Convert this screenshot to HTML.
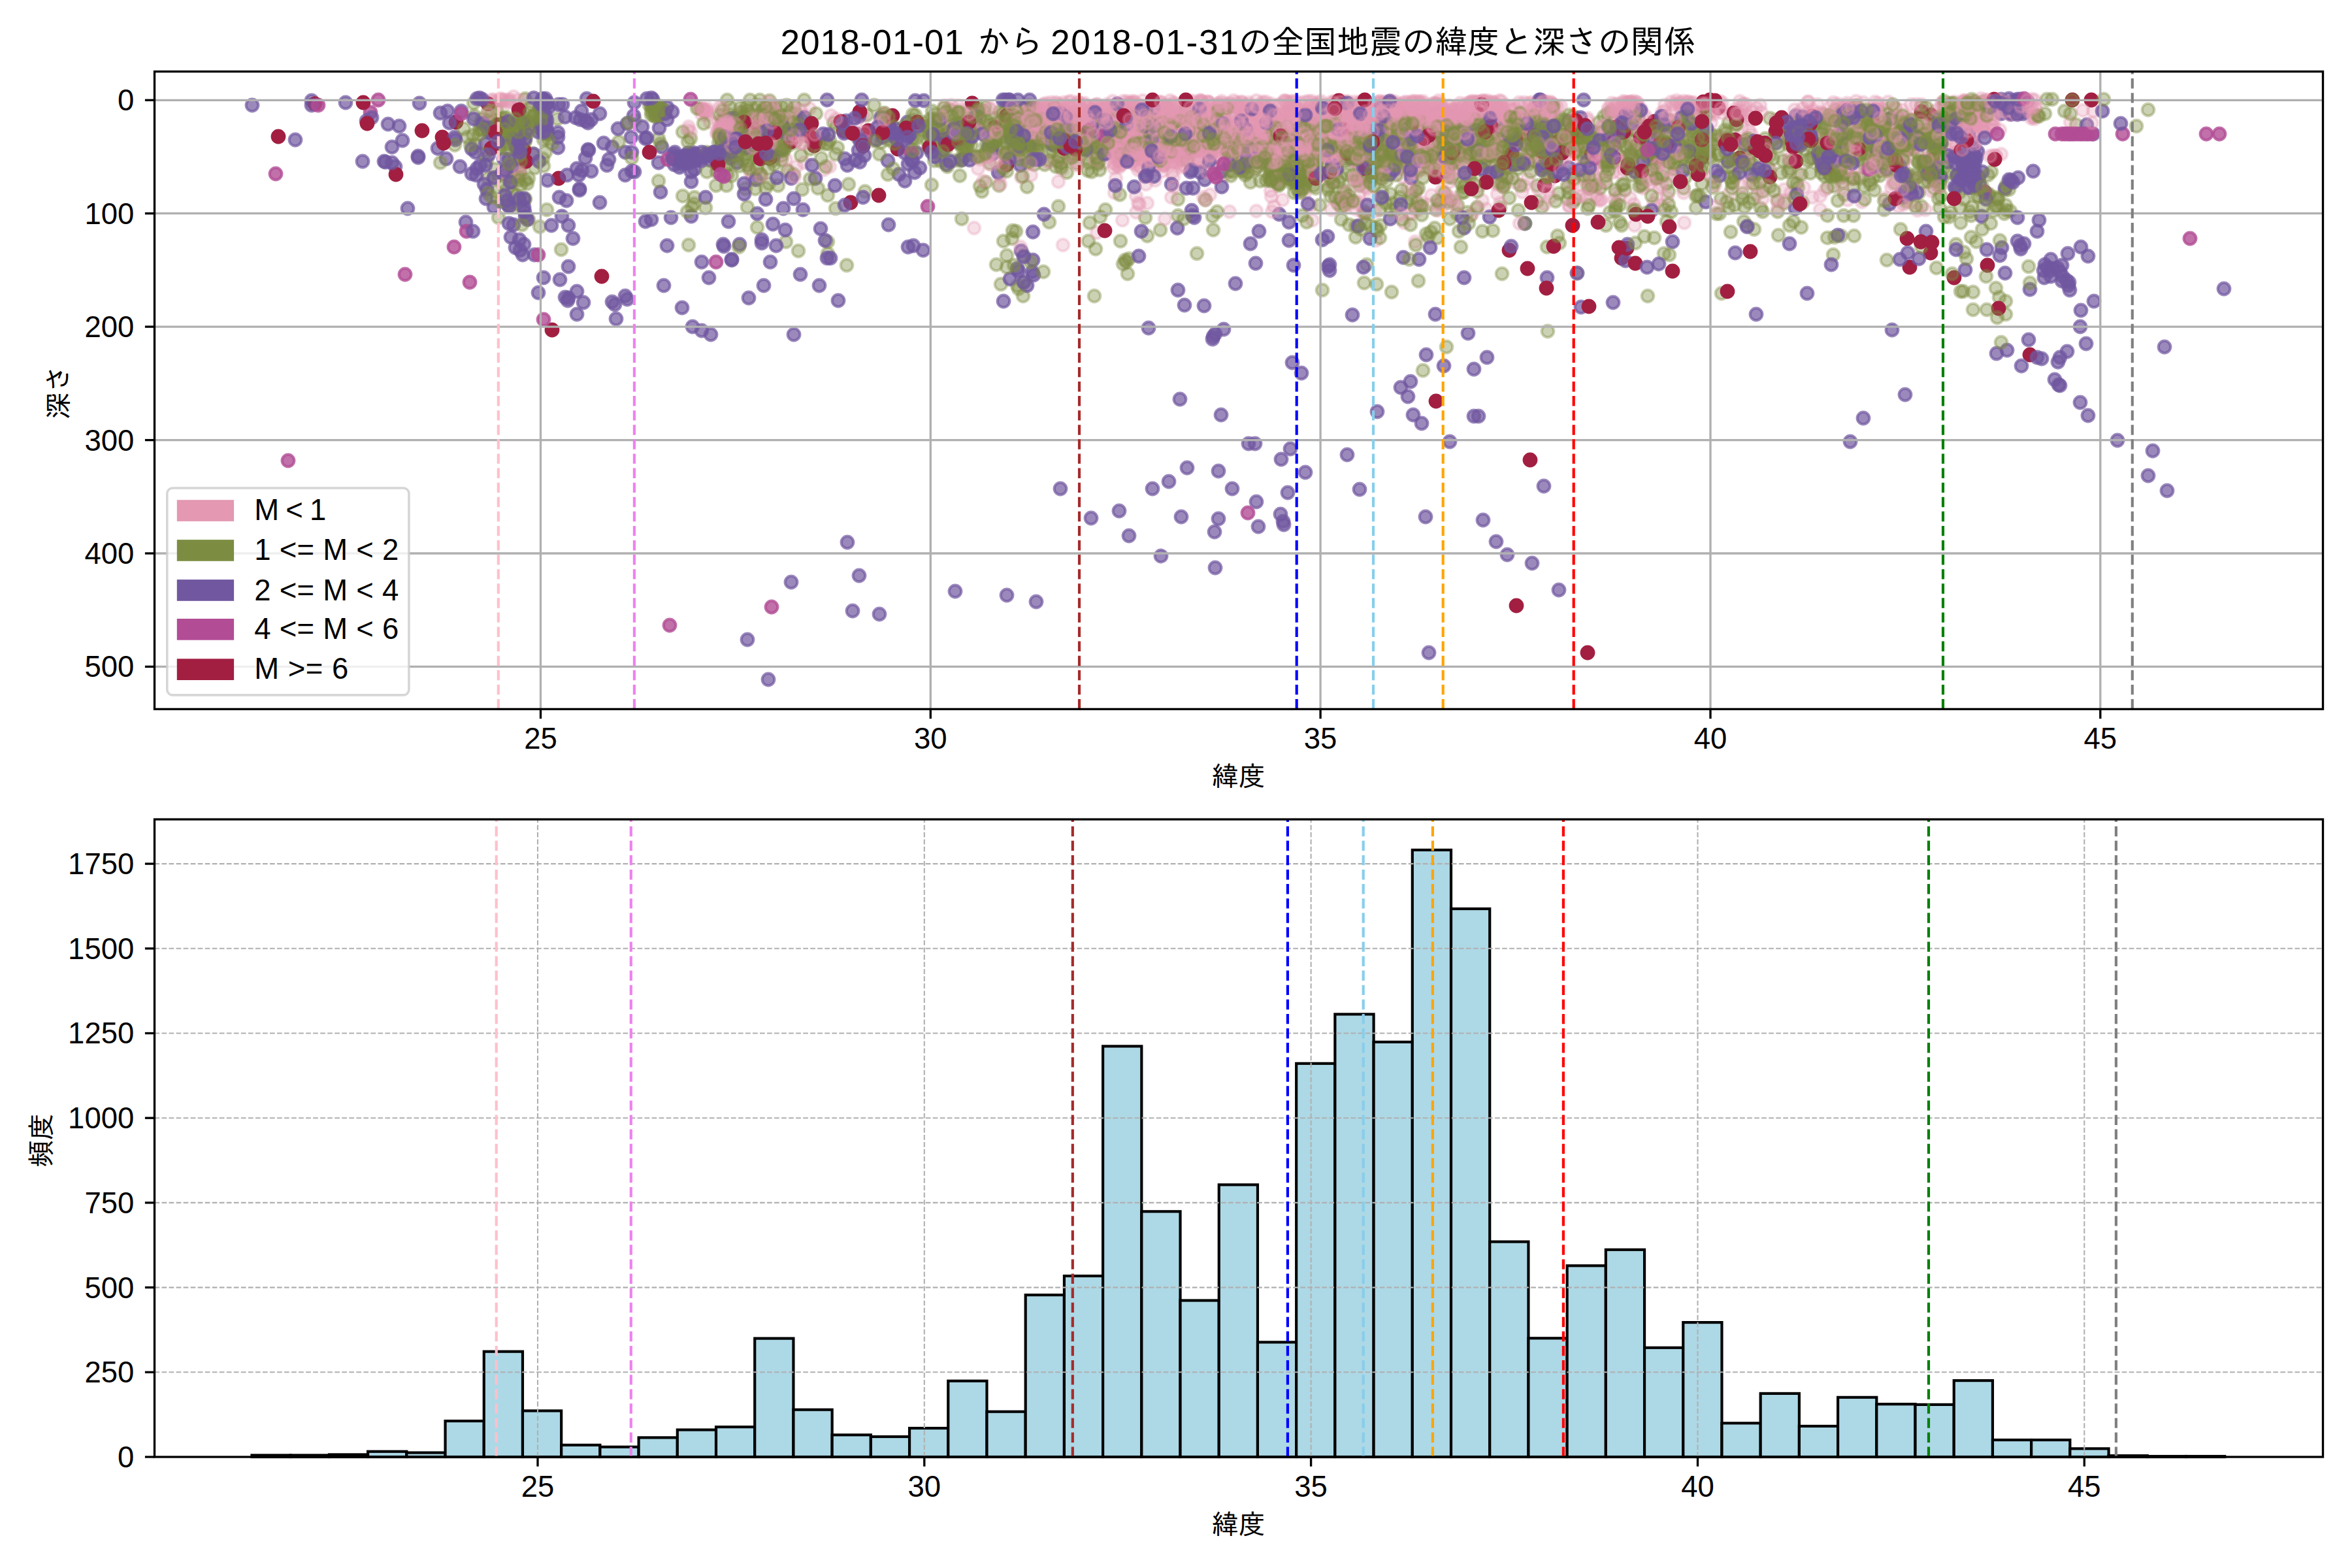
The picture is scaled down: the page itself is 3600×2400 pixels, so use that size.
<!DOCTYPE html>
<html lang="ja"><head><meta charset="utf-8"><title>2018-01 全国地震の緯度と深さ</title>
<style>html,body{margin:0;padding:0;background:#fff}svg{display:block}text{font-family:"Liberation Sans","IPAGothic","Noto Sans CJK JP",sans-serif;fill:#000}.j{font-family:"Liberation Sans","IPAGothic","Noto Sans CJK JP",sans-serif}.tk{font-size:45.5px}.sp{fill:none;stroke:#000;stroke-width:3.33;stroke-linecap:square}.g1{stroke:#b0b0b0;stroke-width:3.33;fill:none}.g2{stroke:#b0b0b0;stroke-width:2.08;fill:none;stroke-dasharray:7.7 3.33}.tc{stroke:#000;stroke-width:3.33}.vl{stroke-width:4.17;fill:none;stroke-dasharray:15.42 6.67}.bar{fill:#add8e6;stroke:#000;stroke-width:4.17;stroke-linejoin:miter}.sK{marker:url(#mK)}.sG{marker:url(#mG)}.sP{marker:url(#mP)}.sM{marker:url(#mM)}.sC{marker:url(#mC)}.tK{marker-start:url(#mK)}.tG{marker-start:url(#mG)}.tP{marker-start:url(#mP)}.tM{marker-start:url(#mM)}.tC{marker-start:url(#mC)}</style></head><body>
<svg width="3600" height="2400" viewBox="0 0 3600 2400">
<rect width="3600" height="2400" fill="#fff"/>
<g id="scatter"><defs>
<marker id="mK" markerUnits="userSpaceOnUse" markerWidth="28" markerHeight="28" refX="14" refY="14" viewBox="0 0 28 28"><circle cx="14" cy="14" r="9.32" fill="#e498b2" fill-opacity="0.3" stroke="#e498b2" stroke-opacity="0.3" stroke-width="4.17"/></marker>
<marker id="mG" markerUnits="userSpaceOnUse" markerWidth="28" markerHeight="28" refX="14" refY="14" viewBox="0 0 28 28"><circle cx="14" cy="14" r="9.32" fill="#7c8d42" fill-opacity="0.4" stroke="#7c8d42" stroke-opacity="0.4" stroke-width="4.17"/></marker>
<marker id="mP" markerUnits="userSpaceOnUse" markerWidth="28" markerHeight="28" refX="14" refY="14" viewBox="0 0 28 28"><circle cx="14" cy="14" r="9.32" fill="#7157a0" fill-opacity="0.7" stroke="#7157a0" stroke-opacity="0.7" stroke-width="4.17"/></marker>
<marker id="mM" markerUnits="userSpaceOnUse" markerWidth="28" markerHeight="28" refX="14" refY="14" viewBox="0 0 28 28"><circle cx="14" cy="14" r="9.32" fill="#b24c95" fill-opacity="0.8" stroke="#b24c95" stroke-opacity="0.8" stroke-width="4.17"/></marker>
<marker id="mC" markerUnits="userSpaceOnUse" markerWidth="28" markerHeight="28" refX="14" refY="14" viewBox="0 0 28 28"><circle cx="14" cy="14" r="9.32" fill="#a21f42" fill-opacity="1.0" stroke="#a21f42" stroke-opacity="1.0" stroke-width="4.17"/></marker>
</defs>
<clipPath id="cp1"><rect x="236.5" y="109.5" width="3319.0" height="975.9"/></clipPath>
<g clip-path="url(#cp1)" fill="none" stroke="none">
<polyline class="sK" points="2149,165 1942,184 1761,191 1984,183 3003,173 1352,174 2045,220 1659,198 1600,168 3035,201 2192,237 1807,170 2145,167 2084,201 1774,215 1953,218 2842,166 2299,163 2054,174 1673,187 1445,189 1858,202 1976,163 1683,190 2804,240 2150,166 1799,242 2850,309 1507,239 2296,185 3038,170 1803,232 3097,159 1612,190 2543,314 2101,182 2267,172 1697,166 3114,182 2079,220 1074,175"/>
<polyline class="sG" points="2053,317 1191,196 800,186 2857,218 2993,289 2361,195 1786,164 1144,247 1669,212 1525,227 1135,193 798,189 2843,212 1163,204 1746,216 2627,213 2357,210 2354,219 2088,323 2364,215 1414,200 1626,174 1763,208 2714,214 2956,175"/>
<polyline class="sP" points="2989,197 1061,238 2965,191 788,223"/>
<polyline class="tC" points="1291,200 1291,200"/>
<polyline class="sP" points="2996,286 1064,244 3078,175 1137,194"/>
<polyline class="sK" points="2581,163 2172,156 2467,158 1950,231 1179,216 1757,180 1775,185 1822,184 1765,220 2018,161 2029,184 1776,237 2078,312 2023,198 1780,254 1803,173 2451,305 2037,191 2775,169 3055,160 1108,186 1977,171 2870,183 2107,180 2738,242 1772,219 1868,183 1917,228 2561,160 2088,182 1885,164 1106,183 1152,170 769,153 2573,168 2035,230 1625,259 1981,167 2002,173 2221,178 2615,227"/>
<polyline class="sG" points="761,189 2819,219 1694,179 1456,169 1619,198 1165,206 2861,277 1656,213 766,186 1687,196 1836,193 2646,318 1506,170 2474,312 2969,228 1276,188 1493,187 1510,210 2114,305 2865,194 1639,189 2814,214 773,207 2406,267 2914,245"/>
<polyline class="sP" points="1403,234 838,157 1105,220 1102,240"/>
<polyline class="tC" points="1160,215 1160,215"/>
<polyline class="sG" points="2779,209 1599,193 2582,185 2935,234 2848,235 2436,217 2360,317 1214,212 2613,200 2707,257 1515,250 2394,221 2230,327 2954,258 2809,244 1957,284 2842,202 1162,208 2496,223 3069,291 2669,231 1620,215 1162,214"/>
<polyline class="sK" points="2281,247 1720,204 2076,229 1816,232 2071,192 2168,200 2619,272 2076,244 2089,187 1825,182 1687,165 2357,193 3026,168 2741,295 1687,204 1710,188 2504,161 1140,173 2161,298 1642,179 1620,176 2168,168 1859,232 1982,213 2015,191 2310,178 2137,167 2927,184 2430,181 2263,213 2488,175 1763,230 1640,196 2119,172 1681,211 2471,306 2092,288 1529,202 1822,225 1896,165 1652,238 2911,168 2694,161"/>
<polyline class="sC" points="1361,194 1488,158"/>
<polyline class="sP" points="3021,228 2996,268 3009,234 1118,242 1108,204 2991,239"/>
<polyline class="sG" points="2809,168 1562,208 2903,249 2463,216 2886,203 1195,210 2877,198 1498,166 1166,174 2407,192 794,257 1166,205 1245,207 1532,226 2646,188 1992,288 2577,228 1817,234 1138,191 3058,317 1703,215 1639,205 2551,281 2941,316"/>
<polyline class="sK" points="3069,166 3015,183 2080,162 2993,225 3013,201 1486,238 2824,189 1740,243 2105,173 2102,188 1753,210 1951,191 2034,180 1955,277 1748,236 2052,212 2195,159 2220,171 2523,235 1627,172 2032,210 1717,235 2402,286 2479,300 2454,259 2061,185 2291,162 2100,184 1800,246 2045,264 1742,193 2292,178 1908,256 1894,227 2074,168 2658,179 2176,194 1107,198"/>
<polyline class="sP" points="1091,239 1040,256 3003,265 828,194 838,203"/>
<polyline class="sK" points="2202,173 2180,182 2219,169 2169,179 1707,176 2062,157 1991,237 2130,211 2148,178 1831,180 1592,193 1617,199 1774,194 2588,168 2263,164 2149,163 1796,232 1146,177 1661,177 1920,259 1722,240 1733,228 2472,202 2574,175 2010,225 2155,182 1854,227 2227,178 2011,203 2272,167 2600,165 2039,180 1996,174"/>
<polyline class="sC" points="1151,206 2866,187"/>
<polyline class="sG" points="1706,190 1160,161 2917,309 2539,190 1151,191 1640,191 1984,252 1199,192 2831,214 1196,245 1508,164 2846,226 770,182 1002,172 1468,207 1185,185 1704,190 1394,206 2563,229 1127,212 1182,180 2320,189 1967,246 1209,172 2397,209 2946,257 1583,199 803,216 2478,239 2062,267 815,235"/>
<polyline class="sK" points="2022,163 1850,157 1991,227 1756,241 1624,197 2042,157 2820,165 2473,296 1717,212 2229,169 2900,208 2068,188 1730,192 2496,156 1888,154 2260,164 2191,197 1615,157 1568,242 2487,169 2999,184 1912,239 1590,172 1947,167 2132,235 1975,171 1725,234 1759,217 1904,219 1181,179 1880,232 1943,225 1973,168 1713,161 2044,164 1768,166 2993,233 2935,322 1746,257 1798,165 1773,189 2845,209 2276,172 2095,180 1707,193 1927,198 1859,201 770,262 1713,256"/>
<polyline class="sG" points="2988,170 1841,213 2986,325 2433,226 1587,204 2914,224 2337,231 1162,192 1763,194 2531,189 3022,287 2940,198 1690,228 2892,230 2912,211 2729,246 1530,171 2521,227 2056,291 2598,299 1806,208"/>
<polyline class="sK" points="1762,236 1796,271 1960,230 1773,228 2689,298 2220,173 2280,175 3099,156 1494,240 2294,190 1474,187 3116,166 2197,192 2249,194 2155,175 1777,205 1775,234 2147,259 781,270 1439,195 1779,175 1576,186 1627,216 1112,195 2111,156 1813,217 1161,212 2083,234 1077,170 1835,245 2531,274 1925,212 2104,208 1122,212 1815,198 1572,168 1628,157 1775,235 1987,180 2817,244 1887,224 1820,154"/>
<polyline class="tP" points="1293,243 1293,243"/>
<polyline class="sG" points="2945,263 2866,253 1615,223 1752,213 1163,219 2693,224 3029,177 2508,181 2408,310 2386,296 2945,247 2121,311 2059,295 1981,259 1179,243 1471,242 1231,153 3022,157 2944,217 757,259 1691,186 2920,200 1709,227 1981,295 1727,193 795,206 1559,183"/>
<polyline class="tC" points="2617,153 2617,153"/>
<polyline class="sP" points="1196,198 1055,245 1179,211 826,166 1052,240 3027,232"/>
<polyline class="tC" points="1246,223 1246,223"/>
<polyline class="sK" points="2419,250 1677,176 1734,155 1849,156 1940,244 1703,202 1899,205 2767,156 1148,263 2418,193 1787,181 1911,166 2180,177 2718,183 2217,257 2828,249 3089,159 1766,184 1694,160 2137,181 2176,183 1923,169 1595,206 1960,183 1637,180 1739,300 1992,196 2047,214 1729,245 2237,164 1732,236 1716,232 2233,190 2688,165 2788,244 1949,190"/>
<polyline class="sG" points="2900,280 1145,219 2532,255 1163,266 1477,226 2448,187 1179,191 1402,213 2913,206 1169,216 1864,214 2957,272 1135,182 2160,305 2773,225 1121,201 2976,162 1482,218 2213,241 803,306 1579,215 1726,210 2847,199 1979,278 2103,186 1487,223 791,229"/>
<polyline class="sK" points="2048,196 1771,253 2815,241 2494,244 1816,226 2924,290 1894,164 2006,183 1677,174 2138,184 1883,160 2060,196 2049,182 2106,236 1871,218 1186,200 1913,179 2925,182 1926,236 1177,198 2903,242 1678,224 1792,202 1750,223 2083,250 1899,237 2544,247 2287,177 2003,155 1817,235 1781,236 2188,175 1207,190 1176,197 1170,178 2023,178 2173,207"/>
<polyline class="sP" points="832,153 1029,241 3063,174 836,161"/>
<polyline class="sG" points="1578,214 1173,194 1563,221 2955,215 1163,232 2240,196 1401,176 2858,230 2874,252 1497,200 2117,264 786,262 1175,218 2920,214 1213,187 1567,191 1181,216 1540,169 2837,286 2822,267 1418,194 2653,243 2065,207 1978,224 1612,213 2073,243 2188,234 2145,178 1599,252 1147,192"/>
<polyline class="sK" points="1623,173 2165,177 2921,191 1837,231 1618,212 2178,206 2902,167 1749,212 2051,174 1151,274 3053,175 2269,155 1841,198 2797,211 1853,228 1921,199 1208,262 2016,177 1694,185 1766,221 1163,182 1110,183 2949,249 2353,162 2135,161 1112,186 1930,224 1649,187 1882,158 1950,184 2085,186 1156,215 1792,179 1796,157 1577,165 1769,228 1978,224 2114,168 2126,180 2063,181 2424,273 1735,181 1746,186 2882,241 1590,186"/>
<polyline class="tC" points="2630,165 2630,165"/>
<polyline class="sP" points="1035,244 1034,240 1112,218"/>
<polyline class="sG" points="1572,286 2928,229 2380,213 1164,203 1670,224 1563,182 2430,285 2494,237 1155,199 1174,194 2215,217 2391,213 2154,203 2269,206 1151,194 1995,252 2401,295 760,293 1130,208 2819,201 1965,261"/>
<polyline class="sG" points="1676,186 2118,203 1561,163 2901,260 1197,218 2033,226 1685,220 3024,166 2342,176 2010,211 1916,246 1576,162 1803,215 2554,293 1580,200 2198,225 796,196 2229,197 2095,188 2488,205 1396,211 1768,204 1696,184 1477,239"/>
<polyline class="sP" points="3008,240 1050,239 2984,192 3083,154 1216,199"/>
<polyline class="tC" points="1165,208 1165,208"/>
<polyline class="sK" points="1849,209 1892,224 1956,228 1729,230 1842,249 1912,199 2283,184 2819,163 1796,228 1733,171 2008,180 2083,204 2786,207 2203,171 2028,227 2205,199 1152,266 1923,154 2839,162 2548,170 1885,179 1792,166 2166,176 2409,281 2163,177 1995,226 2162,155 2294,166 2113,185 2997,233 1924,169 2051,155 3109,181 1776,157 1746,173 3029,161 2134,194 1113,202 2218,235 1958,162 1834,230"/>
<polyline class="sG" points="1197,238 1566,212 2900,190 2207,226 1148,153 3015,324 2195,211 775,201 1719,172 2119,227 2892,184 2212,239 1767,190 2008,195 2414,212 1165,171 1664,242 2119,239 2802,270 1828,230 2033,286 2178,210 1895,209 1779,227 1949,213 1181,232 1696,226 832,183 2035,225 2302,283 2872,223 1977,273 2269,240 2590,174 2175,235"/>
<polyline class="sC" points="1374,228 1173,211"/>
<polyline class="sP" points="2358,153 832,204 3002,242 1385,234"/>
<polyline class="sK" points="1114,185 1695,224 2163,212 2078,238 2034,168 2449,307 3023,202 1793,233 1956,249 1070,166 1901,190 2109,257 3015,161 2827,257 1705,240 1755,229 2728,208 1580,204 1995,204 2062,202 1668,177 2806,157 1777,163 1261,260 2890,156 1572,250 2188,177 2147,271 2752,266"/>
<polyline class="tC" points="1155,211 1155,211"/>
<polyline class="sP" points="3018,217 1389,187 1087,245"/>
<polyline class="sK" points="1594,173 1660,182 2408,196 1804,181 1999,234 2987,222 2106,174 1160,224 1794,162 1923,186 1660,184 2539,222 1764,244 1782,231 1605,171 1606,192 1199,182 2373,162 1652,158 2086,155 1824,208 1615,205 2276,175 1695,215 1539,183 2161,289 1789,191 2161,218 1702,228 1732,158 1804,237 1961,174"/>
<polyline class="sG" points="2752,287 1191,284 2155,219 2841,241 1633,264 2125,223 2999,295 2204,311 1466,192 1438,181 1717,166 797,316 2390,225 2184,231 1815,169 2379,194 1177,242 2324,216 1710,218 2263,196 1936,233 1955,247 2521,239 2387,223 764,215 2218,250 1399,212 2629,208 1195,207 1636,243 1606,214 2014,226 1482,173 799,178 2353,284"/>
<polyline class="sG" points="1994,277 835,233 2037,301 2301,224 1951,213 1172,224 1933,231 1185,228 2637,255 2820,228 1743,202 1143,197 2417,230 795,307 2771,243 2460,211 2469,247 1750,182 2338,243 1625,213 2375,260 2081,259 1992,255 1419,194 1947,250 1624,194 2780,189 2142,213 1111,193 2736,206 2411,194 1676,203"/>
<polyline class="tP" points="1388,196 1388,196"/>
<polyline class="sK" points="1842,302 2380,162 1823,225 2263,158 2029,166 2185,189 2353,158 2031,206 1867,215 1923,236 2312,168 2886,188 1759,196 1231,249 3026,193 1992,213 1937,207 758,157 3017,179 2147,158 2826,177 2839,203 1589,173 1877,227 2211,255 3009,161 2555,185 1923,204 2004,163 2610,158 2356,251 1992,267 2875,158 2098,175 1848,170 2619,170 2649,175"/>
<polyline class="sK" points="2162,327 2127,156 1690,192 1586,172 1977,204 1107,197 2830,175 2194,202 2779,183 2000,234 1776,237 2113,200 1713,229 2352,241 1872,226 778,156 2068,234 2123,173 1206,198 2148,225 1794,230 2611,168 2348,166 2092,245 1913,246 1474,173 2202,163 2796,176 2388,243 2224,182 1810,198 1893,157 1775,185 2002,194 2169,291 1840,206 2178,155 2011,196"/>
<polyline class="sG" points="2797,287 1312,210 1749,200 1571,162 1647,221 1120,269 2193,195 2441,215 1169,219 2063,189 1155,192 760,166 1905,237 2640,199 1541,248 2866,200 1139,207 1481,226 2137,318 1546,195 1487,193 1157,240 2816,217 2316,197 1181,195 2019,237 2040,279 2102,258 1601,198"/>
<polyline class="sP" points="1348,180 1177,182 3015,253 3010,234"/>
<polyline class="sP" points="1116,223 1129,203 1316,173 1359,246"/>
<polyline class="sG" points="1636,213 2262,237 1469,219 3009,173 2236,280 2394,211 1663,192 2389,212 1545,203 1730,235 2410,187 747,273 2743,186 2899,211 2055,228 1550,181 2115,295 833,176 1810,223 1183,197 1965,251 2595,237 2126,223 1778,232 2534,250 3071,322 1467,220 2709,181 791,203 2206,220"/>
<polyline class="sK" points="2833,165 2276,195 1660,161 1223,188 2253,230 1786,161 1146,215 2361,179 1693,190 1831,186 1673,168 2900,220 2452,248 1868,211 1637,178 1262,212 1862,266 2182,173 2813,159 2102,176 2314,168 1650,178 1971,224 1818,243 1182,168 2247,182 1562,187 1456,161 1848,204 1117,182 1963,306 3051,238 1678,160 1640,180 2062,155 1082,176"/>
<polyline class="sG" points="2208,236 1970,261 1630,201 1712,219 3025,275 1141,289 1997,287 1196,163 2357,191 1624,250 2312,189 1397,184 1205,205 2072,247 2596,318 2173,225 2496,214 2731,311 1569,208 1325,211 2060,211 2273,266 2225,247 2617,240 1352,178 1606,246 2983,332 1520,190 809,187 2837,273 2533,214"/>
<polyline class="sP" points="3005,240 761,192 1185,238"/>
<polyline class="sK" points="758,156 2032,207 1953,190 1905,202 800,244 2288,184 1975,198 2892,216 2349,204 1916,179 2280,164 1732,249 1978,264 1979,212 1974,163 2166,185 1719,175 2166,179 1744,199 2444,229 2696,172 1584,185 1634,199 2159,184 1149,220 1754,164 2089,221 2076,175 2048,197 2053,212 3035,185 2114,181 1864,162 2209,196 1623,161 2261,176 2584,159"/>
<polyline class="sG" points="2128,212 2877,171 1428,209 2458,280 1952,269 1197,206 2698,293 2362,200 2738,215 1180,210 1167,206 2818,228 2012,261 2348,209 2294,209 2390,181 2882,246 1566,204 1826,193 1349,218 735,189 2290,220 2347,185 2282,236 1524,194 2254,223 2118,235 2143,202 2129,209 2960,288 2553,217 1615,218 2859,184 2226,208"/>
<polyline class="sP" points="1047,248 748,202 1033,233 1385,277"/>
<polyline class="sK" points="2103,169 2096,194 1849,227 2074,248 2022,215 1765,215 2088,166 1969,171 2503,264 1736,163 2036,215 2971,221 1845,163 1895,163 2506,243 2221,232 1895,229 2245,193 2497,161 3029,184 1882,324 1767,184 1133,171 2814,184 1763,223 1925,193 2140,165 3039,153 2197,161 2993,219 3053,153"/>
<polyline class="tC" points="1366,177 1366,177"/>
<polyline class="tP" points="758,194 758,194"/>
<polyline class="sK" points="1868,225 2092,171 1735,247 1902,178 2065,200 1622,176 3048,193 1629,167 1778,189 2114,212 1999,230 1838,154 1681,213 1832,185 780,270 2187,313 1354,174 2485,166 2348,221 1920,224 1803,200 1108,185 1479,178 2843,270 2129,199 2038,186 3018,183 1709,209 1818,175 2041,269 2498,192"/>
<polyline class="sG" points="2685,271 1280,194 3026,269 1569,198 2949,203 1765,170 1777,202 2503,321 2089,271 1616,255 1695,234 2680,252 1722,191 997,164 1603,206 2791,175 2803,233 2098,230 2216,221 2347,221 2340,251 1890,222 2868,271 2072,187 1881,236 1616,204 2433,289 1132,207 2043,198 1189,211 1736,236 1166,206 2303,215 1430,246 1173,174 3035,156 1651,201 1490,188 2125,194"/>
<polyline class="sP" points="2995,269 1054,242 3014,230 1122,214"/>
<polyline class="sK" points="1831,220 1950,220 1939,246 1602,201 2196,181 1709,181 1864,188 2047,238 2157,327 2169,192 1231,177 2505,157 2208,168 2255,258 2319,279 2021,189 2826,259 1610,221 1718,337 2473,175 2514,285 1804,231 1863,194 2492,162 1919,229 1953,228 1874,218 2992,175 2237,184 1997,296 2543,283 2026,229 1852,188 1734,168 1633,203 2460,207 2128,225 2218,162"/>
<polyline class="sG" points="2870,228 2023,252 2841,184 2260,246 2004,219 1216,164 2775,242 2143,242 2806,209 2098,277 1133,165 2517,195 2853,207 2920,266 1851,189 1635,198 1729,173 1675,174 832,214 2113,262 1596,206 1922,239 1866,215 2052,217 1588,165 2408,178 2087,227 2311,253"/>
<polyline class="tM" points="1395,234 1395,234"/>
<polyline class="sK" points="2090,181 2289,180 2616,175 1969,172 1850,229 1173,224 1817,228 2213,174 2679,178 1623,191 1900,164 1713,231 2206,172 1993,168 2463,224 1852,298 2164,173 1950,192 2917,227 1942,174 1761,236 2028,224 1839,155 2045,191 1917,245 1942,168 1516,166 2541,271 1674,169 1650,203 2786,300 1918,225 2489,157 2013,235 1788,239 1704,184 2280,260 1920,166 2114,180 2032,183"/>
<polyline class="tP" points="1043,242 1043,242"/>
<polyline class="sG" points="1678,243 3006,305 1440,247 2626,215 2679,234 2803,260 728,221 1199,207 2583,178 776,189 2813,184 2220,221 1174,201 1198,207 1172,207 1682,247 2517,206 2500,198 2233,201 2561,194 2275,239 1106,190 2591,207 2466,171 1607,182 2241,231"/>
<polyline class="sC" points="2958,244 1404,187 2955,176"/>
<polyline class="tP" points="1128,249 1128,249"/>
<polyline class="sK" points="1831,163 1707,228 1601,165 1980,217 1980,249 2283,204 2124,198 2109,205 2153,209 2047,201 1699,180 2424,224 2105,206 2069,308 1696,176 1934,223 1828,230 2129,177 1634,181 1771,195 1945,292 2036,169 1951,172 2028,172 2064,214 1920,223 2552,302 1704,225 1537,178 2132,189 2529,194 1136,198 1099,186"/>
<polyline class="sG" points="2902,216 1573,200 2892,197 814,191 2854,190 2615,230 1369,194 2591,202 2937,295 2010,210 2654,268 2986,173 1183,236 2374,216 2224,242 2003,262 2854,177 3048,263 2048,312 2279,231 2202,248 1116,175 2951,249 1964,230 2861,200 3051,323 2126,220 2527,209 2250,271 2758,212 2085,272 2274,225 2105,207 1648,250 2972,176 1522,181"/>
<polyline class="sK" points="3038,158 1717,237 2059,293 2115,183 1682,186 1958,183 1771,200 2107,201 1596,188 1689,188 1671,169 2190,258 1967,240 1865,211 2666,241 2198,184 2078,182 2255,248 1770,177 2417,231 1595,172 1628,178 1786,162 1808,177 2789,211 1828,229 2067,182 1718,251 2304,258 1213,200 1948,228 2623,175 2971,214 1805,205 766,158 2094,191 2946,198 2282,234 2041,168 1598,170 1744,313 1174,180 2211,206"/>
<polyline class="sG" points="2120,220 1905,211 2319,246 2260,215 2621,207 1545,197 2665,218 2451,202 1591,197 2411,233 2157,261 2157,258 2108,217 1529,284 1827,190 2208,237 2230,231 2217,271 2185,212 2091,254 2737,221 2237,237 1900,210 2555,184 2335,182 2311,218 1679,209"/>
<polyline class="tP" points="2981,238 2981,238"/>
<polyline class="sG" points="1933,235 2807,285 1100,219 1912,212 2341,205 2231,314 2518,215 2218,256 2907,212 2134,212 1691,215 1151,228 2353,172 2462,244 1177,281 1112,284 2777,189 1869,215 2346,230 1943,232 2917,188 2026,238 1818,208 1881,248 1428,191 2855,194 2921,211 1813,189 2015,254 1144,169 2040,224 1147,199 2001,276 2004,227 1922,259 2621,287 2257,243 2893,217 2213,221"/>
<polyline class="sK" points="1945,228 1832,191 2248,162 2236,180 1155,186 1831,204 2281,159 2970,222 2103,168 1637,181 3114,153 3010,192 1747,243 1635,204 1588,178 2493,172 2861,235 2082,201 2907,198 2033,235 1800,224 2558,156 1840,157 1779,200 2871,219 1857,201"/>
<polyline class="sP" points="1400,264 3029,271 1112,228 1314,230 1157,275"/>
<polyline class="tC" points="2380,269 2380,269"/>
<polyline class="sG" points="2124,245 2134,229 1930,234 1126,202 2326,192 2366,254 1962,234 2351,218 2400,305 1669,190 1977,233 2771,265 2177,235 2739,248 1500,285 2911,223 1957,243 3058,305 2184,229 779,195 1129,222 818,178 2039,236 2818,171 2243,282 1124,194 1166,199 1448,205 765,269 2477,236 2217,219"/>
<polyline class="sP" points="1122,181 1159,214"/>
<polyline class="sK" points="2108,179 2726,209 2498,158 2043,180 1905,214 1958,219 1792,221 2304,161 2185,174 2260,205 1862,189 2035,215 1955,180 1603,172 2469,264 1857,168 1919,225 1630,180 1530,270 2033,242 2570,159 2525,281 2351,212 2369,157 2203,310 2763,182 1832,196 1707,220 2026,182 1780,229 2239,201 1173,198 2227,179 1722,162 2030,232 2534,216 1921,191"/>
<polyline class="sP" points="1494,178 3093,164"/>
<polyline class="tC" points="2337,203 2337,203"/>
<polyline class="sK" points="2166,199 1986,225 2066,181 2992,156 2677,199 1968,242 1272,177 1878,229 1459,190 2027,226 2011,172 2087,327 1923,223 1734,234 1933,156 1684,229 2656,178 2503,255 2800,199 2606,159 1966,155 2070,211 1704,180 2294,180 2166,202 2086,180 1721,199 2506,175 1647,190 2216,178 1674,169 1145,189 2221,166"/>
<polyline class="sG" points="1566,178 1984,274 1998,281 2208,205 2487,291 1558,220 1213,207 2535,272 2906,202 2286,231 1417,199 2145,245 2305,246 2233,234 1180,204 1175,229 2211,191 1139,187 1165,268 2865,199 2410,213 1651,208 2435,201 2251,330 2455,248 1474,221 1755,186 2976,332 2382,223 2941,163 1644,221 1215,267 2964,228 1297,202"/>
<polyline class="sG" points="2836,240 1115,232 1549,206 2374,177 2119,222 2020,210 2112,321 797,257 2705,228 2235,192 2123,228 1460,246 2063,204 2389,226 1198,177 1459,191 1163,153 2154,256 2141,208 1953,264 1921,216 1974,210 2156,190 2026,236 2318,198 1217,218 2928,201"/>
<polyline class="sP" points="1372,198 3075,165 1187,216 1309,245"/>
<polyline class="sK" points="1813,209 1816,182 1773,173 1823,232 2866,169 1855,234 1911,172 2906,316 2330,294 2040,170 1907,171 1774,237 1928,199 2994,175 1931,197 1779,262 3005,154 1640,164 2087,326 2179,165 2200,216 2016,173 2117,242 1858,191 2674,178 1749,245 2359,260 2305,270 3010,196 1690,208 1581,167 1766,230 1998,236 2145,202 2423,270 1147,220 2178,161 1738,193"/>
<polyline class="sC" points="1523,195 2764,215"/>
<polyline class="sC" points="2538,241 2406,203"/>
<polyline class="sP" points="795,168 3023,248 1519,223 1154,222 1474,205 1292,204"/>
<polyline class="sG" points="2536,273 3000,318 1711,197 2193,219 2973,273 1967,272 2943,279 1693,226 1501,183 2053,225 2171,288 2286,208 2528,209 3028,170 2539,244 1932,248 2573,202 1985,280 1943,254 1568,211 2076,212 1820,207 2966,180 2878,262 2516,201 3068,327"/>
<polyline class="sK" points="1867,219 1879,162 2202,184 2216,176 2044,220 1633,182 2044,242 1572,193 2104,324 1873,269 1675,175 1940,207 2388,262 3043,167 1994,216 1638,186 1832,227 1732,220 1777,230 2834,274 1097,204 1994,173 2558,269 2088,184 1849,156 2357,222 1721,241 2966,189 1726,241 1975,213 2280,212 1216,210 2636,173 2299,177 2841,155 1102,163"/>
<polyline class="sP" points="3018,234 1472,245 1513,225"/>
<polyline class="sG" points="2505,222 2293,280 2881,230 1999,274 2801,250 2963,219 2749,238 2564,225 2684,304 1545,206 791,299 2304,209 1191,185 3044,299 2600,228 2201,271 2217,248 2879,232 1210,205 2052,218 1749,203 2452,220 1439,235 1948,269 1121,215 2591,209 2541,243 1254,220 2097,216 1520,199"/>
<polyline class="sC" points="2604,242 2745,206 2607,164"/>
<polyline class="sK" points="1734,172 1812,229 2312,164 2120,209 2854,174 1715,167 2175,174 1845,184 1832,230 1916,168 2385,218 2882,199 2207,292 1801,238 1827,210 2820,177 1748,189 2501,313 1745,162 1131,197 1618,212 1957,252 1850,220 2229,166 1763,228 1972,176 1617,183 2326,162 2139,243 1166,183 2275,320 1909,223 1572,164 1837,154 2100,173"/>
<polyline class="sP" points="1295,185 1177,242 1180,202 1553,226 1528,264 1063,236 827,185 1489,193"/>
<polyline class="sG" points="2177,316 725,158 1450,205 1657,227 2171,221 1123,204 2856,207 2882,202 1210,214 2705,264 2405,225 1643,218 1175,229 1604,215 1590,221 2960,276 2098,231 1327,176 2782,222 2242,240 1183,200 1910,264 2246,268 778,287 2072,277 2051,241 2507,203 2176,229 1007,163"/>
<polyline class="sK" points="1681,199 2210,202 1809,230 2207,163 1667,181 2655,168 1816,224 1599,210 2064,176 2566,159 2763,183 2211,169 1729,234 1553,174 1913,237 1555,178 1913,198 2956,292 1619,182 1810,245 1837,217 2140,170 2104,171 2052,163 2240,183 2063,223 2119,157 1965,204 2295,264 2100,175 1864,216 2877,166 1617,197"/>
<polyline class="sP" points="3003,249 1443,230"/>
<polyline class="sC" points="2743,217 2417,209"/>
<polyline class="sG" points="2820,271 2221,240 1123,218 1571,212 1738,237 2869,291 1142,213 1426,283 2647,223 2350,184 2228,244 1968,268 2393,200 776,222 1787,186 2128,244 2892,207 2851,211 2132,228 2666,255 1143,163 1518,224 2417,205 2211,295 2524,243"/>
<polyline class="sK" points="2903,201 1760,163 1635,177 1593,211 2090,241 2373,302 2070,225 3054,153 2335,203 2018,164 2057,213 2077,174 2263,178 1997,223 1118,189 1794,264 2365,256 2259,187 2014,196 2041,239 1159,219 1780,230 3023,219 2074,171 3049,175 2239,197 1938,218 2548,161 1597,202 1219,255 1974,171 2218,177 2282,182 2827,158 2034,237 2242,191 1651,179 1346,189 1603,191 1876,203 2067,217 1929,232"/>
<polyline class="sG" points="1523,209 2805,183 2356,190 2049,278 2389,215 1540,201 2477,218 2960,248 2548,234 1845,224 1503,293 2216,310 2584,233 1620,192 2005,206 1202,199 2579,272 1171,181 2958,233 2607,227 2246,325 2146,228 1734,218 2969,279 2137,252 2122,204"/>
<polyline class="sK" points="2120,170 2037,279 2124,250 1575,182 2485,259 1082,171 2144,180 1698,165 1887,208 2045,307 1174,188 2037,177 1751,245 1847,208 1087,187 2206,219 1161,196 1590,173 2337,184 2515,288 2288,226 2370,173 1782,236 2868,203 3055,153 2079,223 2958,171 2060,221 3002,189 1647,221 3046,162 2275,236 2919,179 2112,155 2246,181 2238,244 1352,198 1633,179 1925,234 1680,189 2186,165 1177,211"/>
<polyline class="tP" points="1555,200 1555,200"/>
<polyline class="tC" points="2541,218 2541,218"/>
<polyline class="sP" points="2356,153 1520,235 2357,199"/>
<polyline class="sG" points="2655,271 1187,184 1937,238 2580,243 2930,275 1324,293 2292,262 1427,231 2747,195 1999,263 839,206 2297,227 2203,235 2081,284 1971,257 1754,195 2927,203 2315,273 2223,272 1977,275 2877,269 2238,205 1369,220"/>
<polyline class="sC" points="2402,221 2375,221 2663,242"/>
<polyline class="sK" points="1531,282 2791,219 1708,197 1840,196 2170,254 2823,228 3030,157 2289,177 1857,183 2216,268 2363,155 2088,191 2657,250 1196,223 2973,159 2257,209 2260,178 2284,157 1764,198 2576,205 2022,203 1105,197 1813,191 2377,178 2867,213 1746,220 2280,180 2239,198 1572,175 2787,172 2385,210 1758,183 1742,311 1706,295 2080,300 1658,175 2295,154 1630,209 790,254 1653,214 2577,155 2091,167"/>
<polyline class="sG" points="2820,188 1188,203 1500,198 758,191 2805,233 2324,196 2170,197 1611,231 2159,212 1664,196 2838,202 1615,186 2892,211 2428,202 2352,190 1951,236 2102,206 2241,294 2927,226 1147,196 2853,252 1195,209 1924,237 2099,244 1884,242"/>
<polyline class="sK" points="1694,165 2389,162 1750,234 2008,219 1662,221 2870,168 1805,193 2227,231 2750,184 2017,171 2042,179 1660,189 2318,181 1586,237 2900,232 2195,172 2621,269 1168,188 1129,197 1645,199 2476,159 2231,181 1969,236 1789,208 2285,178 1742,260 2131,178 2098,164 1902,183 1864,164 2376,257 1915,181 1816,229 1991,171 2710,260 3038,201"/>
<polyline class="sP" points="1068,243 2983,186 2645,247 3019,256 1035,241 3004,196 1474,211 1082,235 3017,225"/>
<polyline class="sC" points="2532,186 1329,200"/>
<polyline class="sG" points="1970,193 1714,214 2366,195 1895,200 2529,234 2413,210 2024,211 1726,209 1730,213 2157,211 2563,259 757,197 1957,270 2201,220 2461,174 2641,233 2366,234 1181,196 2324,188 1139,180 819,257 1558,233 1959,197"/>
<polyline class="sK" points="2136,218 2086,228 2222,176 1177,209 1500,170 1599,179 2493,256 2063,166 3023,190 1680,165 2870,156 1816,182 2007,230 2883,167 2027,161 2089,253 1966,154 1321,178 2820,211 2475,184 2918,209 2373,156 2246,165 1753,231 2260,320 1103,199 2161,157 2074,183 1728,200 2167,169 2191,216 2063,232 3055,239 2229,183 1574,165 1726,158 1892,202 1583,194 1452,167 2300,285"/>
<polyline class="sP" points="2895,181 2483,183 1031,236 1449,252 1112,231 1055,237"/>
<polyline class="sK" points="2506,157 1771,235 1969,185 3036,202 1941,207 1774,234 1917,225 1991,191 2121,196 2117,160 1693,230 1899,193 1681,211 2051,184 2768,156 2609,195 2345,157 2052,154 2141,161 2856,221 2681,206 2333,157 3055,239 2226,262 2025,177 2056,184 2080,158 1758,247 2120,168 1820,187 1515,202 2665,177 2518,177 2838,185 2000,227 1701,210 1593,195 2028,199 2638,211 1583,215 2243,217 2095,179 2025,182 1618,223"/>
<polyline class="sG" points="777,219 1895,242 2122,196 2135,208 1880,206 1923,237 2405,222 2671,215 1456,209 2380,228 2771,192 2293,230 2110,217 2901,218 2221,237 1346,236 2801,266"/>
<polyline class="sP" points="1043,240 2786,238 1248,273 1094,239 3007,250 2524,223 2553,194 3030,282 1562,253"/>
<polyline class="sG" points="1176,197 2844,199 2364,175 1733,197 1853,228 2863,234 2659,243 2163,239 1683,212 1941,225 1218,174 2847,231 1665,261 1587,226 1977,246 2144,201 1995,246 2042,236 764,207 1538,235 1536,254 2571,223 1228,290 2134,225 2232,212 2330,204 2630,237"/>
<polyline class="sK" points="2244,229 1102,192 1798,169 2267,180 755,153 2086,242 1839,169 2622,171 1808,230 1681,209 1741,227 1761,199 1110,191 1587,212 1861,180 1502,188 1171,211 1761,240 2050,192 2536,303 2013,239 2287,174 1689,250 2245,218 2079,208 1586,209 2226,308 1645,161 2949,269 1951,223 2514,177 1082,169 2052,159 2825,166 2636,157 1966,232 2284,220 1789,193 3061,199"/>
<polyline class="sP" points="1065,241 3013,287 2345,220 1315,178 1580,189"/>
<polyline class="sG" points="1839,181 1568,194 1137,211 1176,185 1450,255 2619,243 1220,184 2861,222 2269,354 2646,256 2823,298 2684,251 2880,194 2698,324 715,210 2677,245 1197,228 1645,210 2757,213 2750,281 1432,193 2547,237 2526,224 1524,217 2993,168"/>
<polyline class="sC" points="2709,271 1541,252 2756,218 2310,383 1231,199"/>
<polyline class="sP" points="2353,223 2828,182 777,313 2916,604 2950,266 1008,249 2210,560 2627,262 2576,261 1386,214 1053,234 2798,241 3005,256 1548,213 854,226"/>
<polyline class="sK" points="2443,264 2249,182 2229,235 2947,321 1945,186 1818,223 1719,185 3075,175 2153,179 2264,285 2152,172 1947,208 2143,189 2000,192 2062,311 2009,337 1118,197 2362,181 2244,168 2443,301 2015,179 2036,170 1939,229 2531,311"/>
<polyline class="tM" points="3184,205 3184,205"/>
<polyline class="sG" points="2558,324 2797,206 2050,228 790,239 1722,398 2604,260 2902,214 2428,234 2745,339 1203,370 1609,217 2390,207 1715,369 1953,210 1768,221 1176,185 796,254 1956,281 1978,258 756,273 2695,319 1961,251 1421,226 2068,213 3270,193 2052,271 1174,187 3005,446 1867,194 3070,461 3077,323 1743,180 2677,310"/>
<polyline class="tM" points="3170,205 3170,205"/>
<polyline class="sK" points="1980,217 1103,196 2897,275 2156,212 2053,177 1844,200 2127,160 1801,209 1537,241 1918,189 1918,232 2325,157 1873,169 2275,191 1793,229 2217,219 1590,175 1704,228 3033,172"/>
<polyline class="sP" points="3149,410 2971,219 1536,461 2401,186 1110,237 900,229 817,236 1351,210 1825,330 1764,748 3317,751 1094,233 2955,219 1179,194 3072,536 2967,184"/>
<polyline class="sC" points="2656,214 747,159"/>
<polyline class="sC" points="802,230 766,189"/>
<polyline class="sP" points="2172,397 2913,301 1021,183 771,243 2672,221 2371,249 1049,249 886,268 769,264 642,158 1144,979 824,448 1824,322 1297,253 1392,207 1980,406 706,170 2313,377"/>
<polyline class="sG" points="2133,218 1004,179 845,220 2010,204 2303,258 2260,230 2545,269 1428,209 2117,231 1620,316 2167,292 2171,242 2311,215 2325,212 823,187 2191,253 1954,213"/>
<polyline class="sK" points="2013,225 1106,204 2377,161 1781,189 1470,169 2046,178 2013,204 2544,172 1620,278 1593,171 2823,225 2719,192 1808,217 1800,218 2983,176 1592,182 1053,199 1658,169 2276,177 2132,182 1913,191 2913,252 1863,179 1927,206 1692,205 1941,228 2577,179 1842,226 1152,227 1705,250 1808,246 2222,181 1718,178"/>
<polyline class="sC" points="698,187 805,247 646,200 2436,236"/>
<polyline class="sG" points="2148,190 1196,211 1845,306 1670,222 1701,201 3042,164 2092,405 2529,194 2060,222 1557,437 2786,187 1670,196 2102,231 2601,251 2551,339 2608,185 2369,507 1577,215 1882,262 1947,273 1267,388 2362,230 1386,192 853,182"/>
<polyline class="sK" points="1914,247 1961,227 1972,203 2261,156 2321,223 2110,157 1910,185 1606,202 3015,229 1624,244 2071,211 1942,166 2032,187 2177,187 1827,155 1785,197 2556,185 2926,227 1781,239 2099,170 2139,168 2162,222 2798,202 2044,178"/>
<polyline class="sP" points="1373,214 2948,354 1074,401 2611,309 1368,209 966,210 2896,505 2887,258 2270,796 1462,216 594,190 1923,768 2924,292 957,233 3019,248 1911,679 730,258 1397,247 3034,263"/>
<polyline class="sK" points="2284,156 1735,229 1763,158 2568,207 2902,224 2362,181 2196,174 1940,218 1538,235 2159,262 2267,214 2145,177 3034,194 1999,209 803,153 2006,315 1800,250 1767,178 2227,200 1762,256 1712,209 1790,212 1126,196 1655,168 1884,200 1225,168"/>
<polyline class="sC" points="2555,347 2198,614 2482,395 1387,196"/>
<polyline class="sG" points="1178,207 2090,327 1666,369 2059,241 3003,181 2338,246 2591,196 2107,435 1205,261 766,222 1566,453 2483,196 2986,264 2621,220 1011,165 745,246 1940,211 2197,254 2449,288 1646,206 2585,223 2368,378 1454,189 2658,190 2820,279 763,333 1817,245 2690,266 2524,235"/>
<polyline class="sP" points="2793,257 555,247 2540,199 828,198 529,157 1120,398 1225,420 2925,217 2322,251 1859,814 1183,199"/>
<polyline class="sG" points="1227,184 1880,238 1684,332 998,164 2055,309 2423,210 1941,249 1975,274 2036,272 2390,230 1166,229 2562,251 1532,435 2793,196 1993,271 2826,225 1360,214 1469,269 2384,203 1479,228 1566,207 2793,249 1003,169 2650,221 1142,199 2930,213"/>
<polyline class="tC" points="2741,202 2741,202"/>
<polyline class="tM" points="2956,263 2956,263"/>
<polyline class="sP" points="1438,184 1211,273 1316,215 3096,174 3193,526 1139,214 2993,240 588,247 688,188 697,214 1758,257 1107,239"/>
<polyline class="sK" points="2840,229 2329,182 1613,186 2043,200 2278,166 2144,174 3021,185 774,264 1952,229 2149,341 3113,179 1763,214 2619,188 2810,171 1587,173 1508,200 1769,240 2492,158 2197,192 776,270 1741,228 2981,201 3101,165 2089,285 1690,168 1561,183 1600,177 1679,184 1732,194 2280,238 2529,215"/>
<polyline class="sG" points="1240,228 2154,241 2227,184 1226,238 2063,305 2338,220 747,184 2438,202 1140,178 2178,567 1735,193 2969,318 2256,200 2386,184 1267,299 2003,267 2422,225 2000,340 2137,268 2595,229 2207,186 793,207 1714,298 1997,235 794,239"/>
<polyline class="sC" points="2470,216 2916,193"/>
<polyline class="sK" points="2348,168 2292,218 1811,205 2106,192 2296,166 2214,180 1852,238 784,253 2336,178 2092,179 1734,217 1643,174 2058,231 1900,156 2673,160 1833,245 1619,184 2159,189 3201,153 2333,210 1959,211 1755,203 2258,156 1694,166 2789,174 1698,172 1667,198 1877,206 2680,184 1798,238"/>
<polyline class="sP" points="1656,222 2832,676 2368,425 3184,616 2241,349 2770,191 2046,258 2755,207 3012,208 786,344 2934,295 2662,265 837,184"/>
<polyline class="sG" points="1548,185 2211,192 1185,252 2197,266 1978,275 1946,261 2007,226 2986,158 1992,250 2166,318 2675,346 2884,321 1057,212 2137,244 753,204 2216,187 2195,235 2235,230 1950,246 1167,204"/>
<polyline class="sK" points="2059,218 1838,165 2260,203 1950,194 1743,233 1795,179 1106,200 1203,244 2500,163 2097,226 1749,173 1188,176 1885,178 1983,268 1874,225 3082,158 1165,270 2926,285 1901,157 1882,215 1609,197 1936,219 1870,248 1467,162 1958,191 2161,175 2566,266 3086,168 1849,176 1446,162 2828,306 2370,184 2384,163 1730,159 2267,165 2014,177 2971,211 1116,191"/>
<polyline class="sP" points="2150,218 2785,243 2060,212 1623,748 624,319 1297,830 1271,395 1200,211 3150,554 1011,294 605,255 1076,241 729,268"/>
<polyline class="tC" points="2923,409 2923,409"/>
<polyline class="sG" points="2461,246 1526,211 2255,234 2060,244 774,195 1555,354 2088,433 2078,277 2016,221 793,271 1537,190 2483,283 1123,191 2132,311 1536,258 2596,300 2240,286 1635,192 1157,218 2847,273 2565,230 2241,197 2090,211 1453,213 2721,307"/>
<polyline class="sP" points="3061,391 2908,397 835,177 1366,204 1964,798 3143,411 3185,475 1464,213 2821,174 2419,180 2197,481 3015,238 3103,155 2269,259 2801,233 1266,395 2990,201 2035,414"/>
<polyline class="sK" points="1937,224 1839,209 1196,181 1768,243 2047,186 1627,375 2290,282 1709,236 1984,165 2069,164 1984,232 1532,177 1919,185 2000,216 1656,167 2040,262 2076,170 1753,232 2148,161 2600,176 2429,184 2197,220 2029,241 2163,187 1134,192 1997,233"/>
<polyline class="sK" points="3033,175 1166,193 2129,154 2136,229 2068,165 2015,162 1858,217 1113,219 1167,213 1973,207 2903,176 1772,194 2009,178 2262,178 1175,189 2489,176 1985,173 2040,222 1710,229 1888,170 2915,222 2591,158"/>
<polyline class="sP" points="1341,214 971,263 1413,383 704,255 3022,240 2104,215 2365,194 1200,199 3107,443 960,458 3125,549 1958,328 477,154 2108,630 3041,382 2852,640 1305,935 804,332 1283,460 2868,255 1114,217"/>
<polyline class="sG" points="2822,330 2290,188 2353,196 2843,174 1468,172 2007,208 997,171 1448,228 2387,372 2889,175 2915,304 828,167 2246,183 1567,391 1792,220 1114,252 2486,189 1115,198 1878,166 1008,277 1941,256 2955,184 2151,245"/>
<polyline class="sC" points="3002,230 1467,212 2364,284 3107,543 2412,185"/>
<polyline class="sG" points="2867,202 2577,288 2196,349 2797,183 2260,190 2882,247 1910,250 1803,305 2994,374 1836,188 2051,304 2795,243 1990,269 2216,233 2101,216 2860,249 2578,224 2675,212 3178,191 3034,351 2855,234 2790,243 1709,211 1165,188 2996,164 2672,230 1861,205 2425,269 2971,238 2138,202 1471,191"/>
<polyline class="sC" points="2357,211 2321,927"/>
<polyline class="tM" points="1323,216 1323,216"/>
<polyline class="sP" points="1195,228 3288,728 1557,411 1376,267 1094,243 1971,754 1013,225 3064,379"/>
<polyline class="sK" points="1958,214 3002,199 2004,180 2539,251 1919,189 1524,248 1649,253 2208,255 1790,186 1848,198 1928,166 1811,187 3010,177 2669,159 1983,205 1579,226 2090,201 1800,203 1163,179 1874,159 1777,174 1932,159 1956,240 1873,180 2872,168 1794,208 2061,169 1644,183"/>
<polyline class="tC" points="482,159 482,159"/>
<polyline class="sK" points="2165,219 1928,178 1818,235 2011,227 2632,155 2660,175 1770,217 2032,226 1809,243 2202,195 1997,241 2666,195 1947,224 1722,229 3005,183 2166,175 1106,188 1615,217 2294,198 1927,209 1752,191 2050,231 2551,240 2292,297 1637,164 2038,156 1991,179 2883,259 2485,155 1808,197 2150,164 2666,170 2270,157 1965,226 2646,297 1627,178 2083,185 1861,227 2022,155 2009,197"/>
<polyline class="sP" points="1545,153 2144,593 3069,288 2761,212 1141,225 1021,164 893,463 1611,221 2789,254 803,190 2488,399"/>
<polyline class="sG" points="1429,182 2198,321 2408,199 1907,252 1902,258 2413,208 1756,361 2817,268 1208,222 831,243 2398,228 814,161 2825,208 1193,188 1728,396 2954,254"/>
<polyline class="sM" points="3193,205 3179,205 706,174"/>
<polyline class="sP" points="1171,216 2478,204 1189,272 2069,242 1546,427 3063,152 887,291 2429,247 3077,173 1160,203 2966,194 3075,151 860,331 1535,153"/>
<polyline class="sC" points="2625,154 2991,425 2679,385 677,210"/>
<polyline class="sK" points="1905,170 2253,328 1072,167 2704,284 2189,227 2451,209 1167,202 1952,232 1754,234 2345,237 2118,184 2512,167 2206,182 1925,168 2822,250 1955,220 2479,264 1937,186 2125,158 1737,156 2008,187 1910,248 1566,180 2844,192 1845,306 1682,214 1910,209 2117,268 1881,239"/>
<polyline class="sG" points="765,227 1583,252 1156,289 1938,276 2830,224 2567,191 1163,226 809,336 1446,207 2021,264 1097,263 2649,355 2183,232 2099,237 2411,216 1671,263 1863,324 1125,218 1644,211 1182,180 724,207 2449,234 3071,283"/>
<polyline class="sK" points="1615,173 1122,189 2286,170 3025,200 2092,241 1784,230 3003,165 2868,239 2202,179 2098,183 1964,189 1892,221 1861,186 2888,185 2200,159 1882,186 2073,156 1829,205 1177,207 3018,193 2086,230 2584,156 2228,198 2673,245"/>
<polyline class="sP" points="2909,298 1058,331 1102,238 2796,234 3167,432 2749,177 2747,209 957,268 3005,249 1544,153 3013,226 756,317 797,224 1115,236 1278,284 2740,195 3194,191 2974,191 857,428"/>
<polyline class="sG" points="1438,212 2222,242 2220,307 2281,255 3006,386 2168,241 2806,390 2731,208 2340,233 2635,449 3028,161 1105,230 1200,228 2103,222 2348,246 2842,162 1689,207 2013,257 2129,215 2296,318 2869,184"/>
<polyline class="sC" points="1248,217 2342,704 2686,226 2320,212 2348,208 2919,365 2406,198"/>
<polyline class="sP" points="600,225 883,481 854,203 2685,216 905,262 3204,205 1558,153 1753,270 2148,394 870,408 1822,263 2159,584 835,151 1747,354 2155,607 1127,215 1311,205 898,151"/>
<polyline class="tC" points="2511,210 2511,210"/>
<polyline class="sK" points="1641,239 1114,195 1798,214 1955,231 2046,225 1746,223 2180,166 2347,176 1592,187 1714,253 1604,248 1707,196 2058,176 1982,165 1628,203 1801,232 1951,174 1803,188 1515,238 1857,182 1798,211 1660,197 2401,211 2437,268 1634,166 1862,257"/>
<polyline class="sG" points="1901,261 3022,155 1784,224 2962,277 1924,255 2065,299 1158,258 3107,433 1948,247 1448,171 2709,238 2380,193 1927,229 1578,225 1054,375 2667,304 2317,213 1905,248 2924,294 2962,232 1893,220 804,151 2951,278 1013,166 1360,179"/>
<polyline class="sK" points="1851,162 2146,234 2540,287 1935,200 1785,209 3006,198 2068,209 1985,241 1800,230 1166,204 1679,356 2334,232 2925,309 2074,249 2863,180 1898,238 2221,173 2826,162 2285,203 3048,160 2128,197 2428,303 1938,215 2875,178 1645,213 3204,170 2141,255 1821,173 1620,187 3063,236 2549,209"/>
<polyline class="tM" points="441,705 441,705"/>
<polyline class="sP" points="2827,169 730,151 2424,153 3165,388 1179,401 2515,247 2772,212 918,174 1965,803 1613,215 817,150 779,342 2528,322 830,187 3166,437 3094,560"/>
<polyline class="sG" points="1192,218 2111,198 2090,263 1920,219 2059,226 2012,237 2824,247 2159,344 1674,216 2318,199 2219,335 2616,232 1096,284 797,247 826,347 1113,267 1144,253 1832,388 2570,238 817,177 2244,222"/>
<polyline class="sC" points="2375,243 2490,380"/>
<polyline class="sG" points="2651,279 2863,282 2414,418 1924,235 1552,227 2044,302 1150,184 1299,282 2836,175 1525,405 2455,178 3001,446 2273,247 2909,351 3160,170 2752,189 3075,290 2186,363 972,184 2461,228 1472,335 795,180 1983,272"/>
<polyline class="tM" points="1096,401 1096,401"/>
<polyline class="sK" points="2132,200 1144,203 1917,173 1919,226 1643,201 1749,230 1625,212 2212,260 2805,248 1748,228 2495,156 1752,186 1725,171 1811,189 1110,188 1632,174 1324,202 2592,157 1987,186 2085,232 2106,368 1216,271 3086,175 2175,177 2252,158 2111,171 2586,163 1579,242 1491,349 2299,172 1799,182"/>
<polyline class="sP" points="2219,223 929,253 734,150 3196,392 1132,374 2964,257 2970,270 2183,543 3241,674 2560,370"/>
<polyline class="sC" points="2519,199 855,273 1178,242 2503,403 2535,198"/>
<polyline class="sG" points="2838,361 2517,362 1663,179 1740,217 2213,201 1201,216 1550,353 1503,238 772,181 1942,227 1186,210 733,199 1174,206 2510,230 2151,193 1908,208 1219,208 1944,263 1137,245 1431,175 3020,447 1439,215 2369,234 1653,214 2146,336 1179,202 1178,190"/>
<polyline class="tC" points="1159,194 1159,194"/>
<polyline class="sK" points="1988,224 2961,201 2044,181 1833,232 2482,175 1868,163 1111,192 1992,211 2112,224 1630,210 3169,187 1825,178 2590,168 1797,233 2319,167 1658,181 2191,299 1792,240 2172,208 1898,196 2882,220 2371,278 2007,170 2120,156 2079,198 1778,234 1233,195 2064,191 2028,193 1738,224"/>
<polyline class="sP" points="1395,244 2361,255 756,272 2291,195 2334,342 735,253 1860,869 1058,263 1869,263 1817,716 2420,470 3033,331 2530,201"/>
<polyline class="sP" points="1088,512 683,243 3168,444 2094,238 2367,252 2922,189 2755,223 870,456 1343,195 1318,215 2543,178 2531,218 1231,180 2818,207 890,170 2597,253"/>
<polyline class="sG" points="2273,216 1753,333 2555,390 2800,267 1484,214 2516,207 2120,213 2183,358 2964,206 1008,212 2091,269 2972,180 2830,207 2528,300 2921,285 2190,195 3047,342 2353,308 1805,185 1859,198 2964,410 726,177 2709,286"/>
<polyline class="sM" points="2440,243 695,378"/>
<polyline class="sC" points="2035,263 2718,201 2314,236"/>
<polyline class="sK" points="2050,186 2502,345 2145,196 1947,324 2931,224 3001,174 1057,202 2803,181 1804,164 1772,218 2067,178 1976,157 2236,261 1185,167 3068,171 2890,262 2284,183 3013,158 2404,226 2181,171 2036,165 1812,253 2782,160 1878,239 1711,191 2385,239"/>
<polyline class="sG" points="2600,240 1168,169 2610,178 2911,201 2482,345 1803,330 1457,178 2292,198 2004,226 2233,354 2402,176 2380,191 1856,331 2160,237 2044,179 2104,192 2759,310 747,171 1667,249 1514,225 2867,200 1004,177 771,284 1959,267 2884,194"/>
<polyline class="sP" points="831,166 1828,333 1323,238 2093,194 937,225 2718,219 2470,222 713,340 870,345 1663,229 1758,502 1576,221 1167,206 2908,254 1572,437 1576,153"/>
<polyline class="sC" points="2417,201 2475,194 1447,217 2845,228"/>
<polyline class="sK" points="3023,171 1589,169 1950,227 1720,242 1489,191 779,157 1903,219 2281,205 1874,252 1699,227 2688,285 2224,182 2247,198 2209,181 1615,196 3035,161 3061,153 2045,216 1946,301 2814,238 1710,212 2334,201 2155,166 1643,172 2035,174"/>
<polyline class="tM" points="567,172 567,172"/>
<polyline class="sP" points="1681,197 386,161 1365,201 1914,373 825,247 3016,271 999,152 837,199 988,212 3088,333 1032,252 2371,252 1056,245 2754,199 868,268 722,266 2926,297"/>
<polyline class="sG" points="1982,211 2892,182 1192,198 1188,191 837,321 1062,312 1430,211 1470,246 784,279 3018,152 2294,238 2211,264 1267,370 1961,215 2079,210 1566,229 2790,189 2073,228 1010,175 2327,173 736,199"/>
<polyline class="sK" points="1695,233 2537,253 2062,160 2662,175 2584,156 1795,248 1923,246 2333,284 1575,197 1792,172 1768,276 1933,207 2468,199 2667,160 1950,316 2211,181 2049,233 1197,192 1203,183 2423,255 2464,224 2170,214 1739,325 1168,225 1656,196 1584,163 2377,170 2087,159"/>
<polyline class="tM" points="2860,259 2860,259"/>
<polyline class="sC" points="3201,153 2485,202 1185,201"/>
<polyline class="sG" points="1523,217 1147,258 2788,258 1581,163 2249,224 2263,202 2468,248 1151,218 2607,212 2075,363 1823,227 2438,214 2721,324 804,216 2186,201 2608,198 2889,261 1109,256 1857,352 2108,353 2331,252 794,197 2041,280 1153,207 1683,260 2969,211"/>
<polyline class="sC" points="1099,252 1345,299 2430,999 2773,178 2607,156"/>
<polyline class="sK" points="1715,175 1665,209 1667,170 2054,161 1778,204 1955,199 2566,223 2984,198 1851,210 1815,203 1779,222 1527,191 1742,233 1640,215 2545,210 1772,157 2044,155 2136,177 2142,236 2011,159 2493,176 2188,177 1862,230 2061,180 2233,171"/>
<polyline class="sP" points="1401,154 1582,421 3003,241 2259,199 696,210 3196,636 1488,209 1054,250 2994,382 1062,234 2800,240 2418,260 1389,210 3164,538 2838,171"/>
<polyline class="sG" points="1126,190 1887,263 1474,228 2651,245 2594,226 2210,224 3060,455 2298,216 2236,378 2631,236 1163,222 1159,232 2997,183 1670,213 2327,211 2795,250 1500,179 1579,204 784,296 2956,195 1564,194 2605,281"/>
<polyline class="sC" points="2541,220 2049,154 2654,173"/>
<polyline class="sP" points="3128,414 1063,259 2574,180 1027,333 2681,267 2462,211 1586,921 1180,234 2238,333 1143,226 2225,230 3056,541 3153,547 1137,193"/>
<polyline class="sM" points="3377,205 3038,294"/>
<polyline class="sK" points="1641,238 2293,167 2231,169 2446,305 1647,221 1577,179 1661,162 1597,160 1781,252 2841,258 2267,170 2139,182 2136,160 1164,218 1757,232 2683,171 1588,207 1858,226 2731,290 2321,177 2168,220 2107,249 2852,157 2634,166 1729,191 2059,164 2189,182 2289,157 2942,228"/>
<polyline class="tM" points="1022,244 1022,244"/>
<polyline class="sP" points="3218,170 3022,257 561,185 2160,272 2256,565 1016,437 2521,409 990,211 743,220 3067,157 1009,196 2873,230"/>
<polyline class="sC" points="2569,195 426,209 2524,193 2090,258"/>
<polyline class="sK" points="1957,273 2946,199 2456,242 2042,252 2442,275 1938,163 2451,195 1705,257 2387,218 1896,224 1926,201 1664,175 1719,198 2338,274 2370,170 2578,341 1789,240 2201,176 2263,156 1798,224 2145,207 1619,158 2285,167 2155,183 2900,164 2207,180 2157,192 2534,209 2244,227 1900,162 1676,245"/>
<polyline class="sG" points="3169,174 1938,226 2990,158 1637,220 2006,261 1566,197 1185,167 738,182 1680,226 2956,269 2509,285 2486,282 1958,282 1081,233 2256,210 2081,238 1959,230 1650,226 2172,260 1367,258 1617,224 2285,353 2324,322"/>
<polyline class="sG" points="1467,198 1658,202 1689,196 2874,242 2511,273 2714,243 782,316 2564,241 809,197 1742,220 2810,231 1621,209 1190,213 1603,188 1105,217 2259,239 1911,209 2065,344 2443,284 3025,370 1135,172 1571,216 1059,317 1000,161 1816,221 1982,239 2068,213"/>
<polyline class="sP" points="1865,721 865,179 2945,248 1927,354 1454,247 1926,806 779,316 1371,204 2281,265 2187,999 967,233 943,488 2379,263 3088,369 674,173 1581,355 2783,235"/>
<polyline class="sK" points="3007,155 1723,173 2075,320 1636,183 2084,155 1593,174 1741,225 1713,223 3050,199 1906,245 2678,279 1156,184 2021,183 2057,192 2097,248 2965,285 2905,180 1911,161 2004,167 2150,164 2348,227 1587,206 1674,183"/>
<polyline class="sC" points="2056,198 2491,257 2903,253"/>
<polyline class="sP" points="830,151 3098,373 1674,191 2994,182 745,194 722,228"/>
<polyline class="sC" points="1321,223 2160,192 752,227 2941,171"/>
<polyline class="sK" points="1761,232 2166,370 1975,211 1634,174 1730,213 1670,175 1556,236 2807,217 1921,231 1231,205 3009,154 2776,178 2093,237 1587,181 2036,189 1975,241 2501,176 1768,209 1676,168 1773,199 1790,203 2229,165 1848,178 2078,309 1596,161 2212,187 3052,192 2091,199 2304,178 2553,260 1108,189 1990,157 2196,249 2464,184 1673,191 1682,178 2204,236"/>
<polyline class="tM" points="1910,785 1910,785"/>
<polyline class="sG" points="1575,178 1183,191 2468,241 2740,259 3005,177 1621,240 2128,297 1646,230 2113,345 3038,295 2604,229 1957,254 2593,202 1240,274 1733,177 2085,198 1599,217 1436,222 2008,189 1167,217 2581,178 1167,217 1679,241"/>
<polyline class="sM" points="3038,294 579,153"/>
<polyline class="sP" points="1541,911 3013,226 937,462 1315,881 3004,273 2247,510 3205,461 932,244 838,276 2503,263 590,248 1084,238 2981,248"/>
<polyline class="sC" points="1541,177 2772,215"/>
<polyline class="sG" points="768,198 1178,154 994,161 2247,234 741,236 2274,200 2460,248 1424,182 1169,185 1549,365 1751,219 1009,176 1264,220 2154,190 2118,179 1567,432 2319,181 1957,236 1184,186 1906,268 2702,220 2048,225 1581,210 2147,214"/>
<polyline class="sK" points="1150,182 1589,164 1125,228 2405,185 2097,228 1105,209 1668,171 2176,233 2062,227 2509,200 1201,222 1802,216 3071,156 2876,216 1781,253 2185,182 1975,205 1721,229 1600,183 3112,178 2093,242 2136,196 1782,232 3045,198 1958,179 2225,176 2078,281 2916,185 2766,175"/>
<polyline class="sK" points="2786,321 2018,157 1709,253 2577,295 2669,217 1708,233 1893,163 1865,242 1597,167 2611,159 1111,208 1847,254 1628,179 1948,249 2501,161 2663,155 1907,174 2136,156 2093,183 2298,155 2032,164 1497,258 2250,239 2444,286 2084,195"/>
<polyline class="sP" points="1681,203 1559,415 1021,376 452,214 3129,425 1634,223 2242,189 831,153 1120,397"/>
<polyline class="sC" points="2361,232 2658,183 1316,171"/>
<polyline class="tM" points="3174,205 3174,205"/>
<polyline class="sG" points="1863,183 1172,288 2762,211 796,235 2143,302 2261,317 1856,209 2014,288 2534,201 2280,218 1235,209 2235,217 2790,236 2298,268 1779,188 1239,199 1608,202 2657,191 1963,217 2070,268 1132,254 2381,308 1354,173 1875,190 2959,224 2548,321 1937,243 1952,195 1535,173 1159,348 2220,225 1420,216 2032,290"/>
<polyline class="sM" points="1108,270 714,354"/>
<polyline class="sP" points="1092,233 1215,304 2761,199 2756,192 792,227 784,212 1808,791 748,237 2478,203 2748,319 1042,247 1183,343 2817,217 2366,206 1927,238 2667,248 1856,519 800,390"/>
<polyline class="sK" points="1741,214 2751,174 1728,159 1239,166 2216,178 2906,191 1678,162 2182,176 1944,226 1958,160 1554,235 1987,245 1836,223 2971,246 1116,195 2487,167 2065,202 2113,273 1710,228 2029,177"/>
<polyline class="sC" points="2955,387 1302,310"/>
<polyline class="sG" points="2160,221 1992,277 1221,201 2186,256 2307,272 2200,364 1143,236 1001,177 3070,481 1996,194 2816,213 2910,187 2810,271 2896,233 2818,361 2694,279 2929,220 2235,237 1147,174 1593,213 2945,205 2062,227 2072,216 2237,193 2642,203 2065,217 2043,190 2263,235"/>
<polyline class="sM" points="3397,205 3197,205"/>
<polyline class="sP" points="2918,198 2914,266 881,180 2498,188 3013,206 1886,748 1122,194 1909,236 1609,211 3153,590 2589,189 2080,201 2612,196 2127,267 2937,396 2310,208 773,299 1085,425"/>
<polyline class="sC" points="2796,256 2470,241"/>
<polyline class="sG" points="2203,219 2757,348 2190,355 1709,170 2151,232 2462,260 787,269 1198,187 2235,198 1981,261 2319,241 2912,177 2515,205 2632,327 2152,197 2317,190 2348,177 2154,211 1130,190 2669,339 1127,197 2812,267 2169,310 1541,208 2086,219 1581,223"/>
<polyline class="sK" points="1767,231 2368,175 2747,168 1112,184 2015,181 2232,179 2019,178 793,153 2291,177 1878,196 2232,183 3020,216 2041,157 1697,228 2253,186 1613,213 3051,182 1140,197 1115,202 3025,203 1707,162 1737,241 1571,171"/>
<polyline class="sG" points="2574,192 2853,285 2299,419 1726,419 786,191 2936,210 2809,208 2411,305 1181,182 1163,210 2880,233 1249,174 2290,200 1561,244 1194,191 2667,296 1952,220 1226,202 2238,295 1119,208"/>
<polyline class="sK" points="1953,225 2113,188 1938,156 796,268 1120,204 1310,189 2067,176 1511,241 1816,216 3013,174 2507,180 2072,193 1742,181 1906,208 3032,181 2276,154 2032,208 1697,164 2102,166 766,153 2049,182 2155,287 1735,158 1592,209 1103,204 2114,245 2239,162 2153,171 1832,165 1752,238 1631,185 2086,184 2345,166"/>
<polyline class="sP" points="1806,611 2809,247 2462,194 905,183 1198,194 3081,279 1256,350 1030,243 3046,164 3184,500 2163,635 1563,384 2349,207 1346,940"/>
<polyline class="sC" points="1242,211 2384,218 2378,377"/>
<polyline class="tM" points="3156,205 3156,205"/>
<polyline class="sK" points="2375,158 2071,207 1928,168 1514,166 2145,178 2495,303 1725,155 2915,182 2051,241 1226,208 2242,182 1563,271 1105,184 1579,191 2168,265 1075,168 2093,279 1898,178 3017,194 1713,245 1729,216 2078,181 1848,215 2122,163 2078,192 2205,159 1817,163 1656,172 2392,242 2229,317 1793,302 2132,157 2296,166 1883,231 2720,307 1829,197"/>
<polyline class="sP" points="2402,257 2988,205 883,446 901,230 2935,210 1851,247 741,282"/>
<polyline class="sG" points="2789,205 1963,207 2683,281 1948,200 776,210 2505,169 2024,444 1814,215 1942,272 2015,271 2951,198 2988,419 2241,195 1006,174 2702,212 1545,198 2032,232 2914,190 778,193 1776,352 2519,326 1652,202 2726,265 2016,247 1172,220"/>
<polyline class="sC" points="2572,278 2432,469"/>
<polyline class="sC" points="2374,232 2605,214"/>
<polyline class="sP" points="2916,293 2097,365 918,310 1229,321 2357,154 611,193 1471,195 2040,254 2491,374 1159,327 2818,190 1696,192 1586,244"/>
<polyline class="sK" points="1834,198 1723,209 1783,335 2376,159 2356,165 2921,207 2660,174 2396,243 2477,167 3032,151 1770,227 1665,176 2020,220 2293,169 3004,157 2918,229 1968,220 1891,178 1691,179 1599,165 2118,211 1879,189 1516,252 2188,215 1618,200"/>
<polyline class="sG" points="2222,251 2370,271 1886,237 2963,193 1643,236 3008,168 2399,285 2872,229 2075,346 2648,272 1679,183 2054,232 1052,324 2377,163 2634,304 1436,201 2829,175 1881,233 2085,184 3040,162 3029,290 1222,384 2127,231 2351,208 1588,231 1583,224 2515,234 1977,215 2882,223 816,177"/>
<polyline class="sK" points="2113,184 2246,232 2018,233 2129,159 1958,226 2090,172 2221,179 2181,230 1586,203 1787,221 1210,208 2004,225 1749,175 2594,178 2037,165 1705,220 1175,165 2468,167 2940,185 1190,184 2171,171 1562,378 2456,277 2158,176 1805,209 2402,316"/>
<polyline class="sP" points="2219,676 1581,244 1580,416 1710,159 2211,240 2771,206 2801,239 1690,236 2585,231 807,336 2079,346 728,233 855,160 2745,210 2087,257 3157,423 2511,169 1938,188 1743,392"/>
<polyline class="sG" points="2460,254 1221,191 2627,327 2896,219 2279,198 2225,226 3055,441 2913,224 1944,235 2355,215 2845,245 2837,330 2183,205 2059,247 1646,185 3220,152 3063,524 1793,191 1791,196"/>
<polyline class="sC" points="3052,152 2062,235 845,505 2180,212 2014,273 2745,225"/>
<polyline class="tM" points="3166,205 3166,205"/>
<polyline class="sP" points="804,203 2049,198 1243,253 1202,352 1453,211 1836,167 800,188 2742,207 569,180 2747,196 2799,236 783,254 2150,198 2917,205 2261,229 2160,213 1121,219 3137,415 2766,449 1713,782"/>
<polyline class="sC" points="2504,328 2187,207 606,267"/>
<polyline class="tM" points="3161,205 3161,205"/>
<polyline class="sG" points="3130,174 2082,187 774,179 2271,179 2386,216 2091,238 1654,228 2258,248 1471,204 2344,229 1539,217 1642,195 2097,280 2652,280 2184,242 1152,192 3288,168 2361,199 2173,184 2171,430 1282,226"/>
<polyline class="sK" points="2085,187 3082,172 2052,156 2169,322 2818,200 2802,162 1675,196 2075,195 1694,163 2774,302 1863,159 1730,211 2223,255 2494,175 2294,179 2243,179 1938,215 2072,181 2361,242 2657,173 1843,227 1970,225 2933,160 2439,253 1847,221"/>
<polyline class="sP" points="818,390 2039,253 1308,181 1765,165 2280,332 1166,367 2276,547 2320,222"/>
<polyline class="sC" points="1691,353 3042,406 3172,153 2771,189"/>
<polyline class="sK" points="1933,171 2082,170 2212,176 1678,171 3037,187 2191,160 1636,156 2301,172 1708,273 1749,154 1730,234 1888,254 2265,174 1920,197 1215,167 1660,179 2768,178 3188,169 2866,259 1944,232 1645,204 3110,152 2190,169 1457,196 1793,185 2007,179 1969,230 2483,174 1669,171 2002,230 2010,179 1806,177 1573,181 1997,240 2474,165 1988,175 1735,216"/>
<polyline class="sG" points="1539,179 2402,203 766,308 1724,401 1517,223 3044,297 947,217 1569,226 2129,241 1144,317 2918,269 2473,318 3017,363 2280,238 1755,177 3007,178 1270,215 2289,219 2861,179 1914,279 1011,220 1117,212"/>
<polyline class="sK" points="753,153 2269,175 1833,227 2108,184 3027,192 2354,289 1773,206 1736,171 2846,208 2370,162 2214,259 1155,193 2193,178 2257,210 1734,215 1932,162 3007,195 1729,194 1936,232 2501,155 1743,196"/>
<polyline class="sM" points="1181,929 832,489 3352,365"/>
<polyline class="sG" points="2479,340 1473,197 1552,194 2407,197 2366,205 2259,183 2969,285 1541,409 2576,213 2116,268 790,189 2030,221 2520,230 2915,223 2828,231 674,249 1161,228 2472,291 1614,165 1063,302 1445,165 2039,223 1991,265 2554,313 2191,241 2797,330 1102,176"/>
<polyline class="sP" points="2632,269 738,152 1793,282 1872,189 1560,224 2564,224 1121,186 640,241 2758,218 2364,229 1857,515 1636,210 3022,269 2144,192 1766,270 861,160"/>
<polyline class="sC" points="1351,203 556,157 2294,322"/>
<polyline class="tM" points="422,266 422,266"/>
<polyline class="sK" points="2143,220 1870,202 1650,222 1837,157 2085,217 2087,195 1731,231 2005,171 2492,161 2171,170 2721,319 2209,247 1863,232 2271,157 2014,216 2030,186 1175,197 1983,175 2553,177 1601,193 1703,173 1899,199 2868,166 1642,173 2143,178 2499,175 2254,155 1671,197 1797,286 2145,176 1737,252 1740,201"/>
<polyline class="sC" points="1210,217 1139,187 2223,234 2701,219"/>
<polyline class="sG" points="2110,249 1895,213 2000,254 2947,206 2234,234 2404,214 2078,243 2953,251 2782,226 1121,185 1592,182 2428,203 1952,213 1556,171 2130,188 2424,210 2801,208 2479,314 1171,202 2099,182 2893,228 2933,211"/>
<polyline class="sP" points="2115,302 1802,349 3185,378 776,307 2176,648 2145,238 1045,246 1860,511 1042,242 1319,153 854,210 2133,260"/>
<polyline class="sP" points="779,244 1107,230 1043,251 2547,191 1199,319 3118,547 750,201 2363,744 1414,154"/>
<polyline class="sC" points="2727,180 2641,220 1629,227 1164,243"/>
<polyline class="sG" points="2239,254 2071,242 2866,251 807,281 1128,238 828,178 1706,196 2363,190 2858,182 2102,209 757,185 1186,216 2391,218 1128,237 3043,268 1595,209 2439,212 2858,220 1570,223 2940,176 2458,345 2104,225 1990,195 2067,227 2919,230 2077,233 1008,177 1169,215"/>
<polyline class="sK" points="2922,299 2177,217 1825,222 1778,230 1077,168 1986,165 1981,255 1921,210 1598,175 1187,193 1828,195 2055,188 2044,204 796,264 1074,166 2270,168 3022,222 2268,156 1797,216 1957,245 1547,185 2048,165 2930,273 1946,159 1787,249 2025,162 1796,226 2083,182 1927,216"/>
<polyline class="sP" points="3092,152 1837,264 2032,362 616,215 1907,198 1882,252 745,290 2215,204 2656,387 3007,267 1504,205 1816,288 2923,297 836,192"/>
<polyline class="sC" points="2407,345 2344,310 2197,271 2551,221 2513,262"/>
<polyline class="sG" points="1769,216 1895,203 2115,200 2376,208 2576,241 2388,229 2745,280 2503,230 1131,378 2910,200 1546,174 2437,285 2936,247 2502,179 2971,300 2702,223 2563,249 794,189 2148,181 2570,209 2266,211 2140,243 747,296 2214,531 1675,453 2106,349 2533,227 1359,267"/>
<polyline class="sK" points="1606,212 1700,231 2814,251 2073,274 2251,178 1848,168 2162,265 1510,207 1184,185 2491,241 1728,210 1752,234 2462,165 1772,209 1441,178 2179,166 1821,242 2573,234 2245,267 1709,205 1729,212 1120,195 2947,192 1591,191"/>
<polyline class="sK" points="1777,224 1816,215 1482,186 2275,199 1660,158 1778,250 2109,167 2796,242 2200,174 1910,251 2133,171 1797,219 2127,172 1728,170 2189,241 2405,190 1889,204 2059,175 3057,154 2290,224 1852,239"/>
<polyline class="sC" points="562,189 3010,215 2492,252 2596,254 2599,267 2282,193"/>
<polyline class="sG" points="1658,224 2907,223 2976,155 2207,210 1264,255 2412,206 2535,228 2384,361 1773,226 2760,210 1494,240 1117,163 2754,203 1551,193 2258,226 2225,209 1761,188 1864,170 2935,271 1908,253 2800,177 2579,238 1561,217"/>
<polyline class="sP" points="2108,210 1484,245 2924,191 1050,238 1446,213 1973,368 2644,228 2892,312 896,185 827,159 1725,190 2314,210 1975,687 789,379 2801,240 3153,416 2367,221 2759,179 477,161 1914,228"/>
<polyline class="sP" points="3092,171 1180,182 2992,286 1321,224 3134,409 1813,467 2291,263 2381,246 2489,175 1398,376 3112,262 2469,241 1119,233 1869,635 983,194 941,466 2361,210 883,258 1176,1040 1789,737"/>
<polyline class="sG" points="1824,180 2010,243 1899,217 1128,199 1981,231 2100,271 2941,378 1186,163 1487,203 2390,215 2715,292 2936,249 3058,304 839,213 1045,202 828,185 2522,231 1972,268 2925,184 1932,246 1984,265 2006,214 1119,214"/>
<polyline class="sK" points="3004,170 1188,219 766,151 2038,321 1971,157 1766,231 1853,237 1761,228 1577,203 1109,189 1229,220 1933,190 2167,155 2010,265 1664,165 2079,241 1596,171 1823,201 1620,176 2819,288 2834,164 1917,191 1752,168 2178,177 1108,196 2873,242 2149,234"/>
<polyline class="tC" points="2522,331 2522,331"/>
<polyline class="sP" points="1169,437 2763,214 1748,168 1907,249 896,242 2849,170 2182,791 2317,252 782,363 2382,262 887,289 1753,193 2128,335"/>
<polyline class="tM" points="487,161 487,161"/>
<polyline class="sC" points="1451,221 2605,186 2749,247 3053,244 2446,340"/>
<polyline class="sG" points="2910,208 2154,309 1178,242 2609,209 1879,232 2432,270 2532,364 2381,239 2498,268 1113,153 1676,205 2547,388 2283,239 2129,321 1193,184 1946,276 2550,203 1976,280 1174,197 1497,169 1198,195 2436,212 2487,193"/>
<polyline class="sK" points="2045,238 2242,175 1623,198 2209,191 2462,169 1756,222 2117,264 2548,225 2024,237 2290,162 2565,184 1788,201 2472,219 1740,219 1183,162 2240,173 3023,178 1804,233 1772,196 2273,158 2051,205 1602,185 1831,226 2473,171 2236,168 2759,166 2592,168 1746,255"/>
<polyline class="tM" points="719,432 719,432"/>
<polyline class="sG" points="2432,314 2972,220 1465,207 1163,208 2036,261 2083,351 1559,442 2960,236 1601,201 2944,248 2156,222 1423,208 1204,161 2503,372 3020,474 2973,194 2084,218 1607,233 1509,279 3141,152 1699,198 1136,228"/>
<polyline class="sC" points="2991,304 2644,215"/>
<polyline class="sP" points="2887,234 1844,275 1623,173 1316,248 2388,261 1824,260 2263,637 2759,207 2062,158 1115,339 1766,193 2189,379 1916,167 1763,215 1260,205 1873,504 832,202 2871,207 1360,344 2111,199"/>
<polyline class="sK" points="1105,192 1778,226 2453,193 1971,233 1680,160 2161,163 1825,180 1674,162 1578,268 3003,229 2054,204 1114,191 2178,158 2793,291 778,153 1673,168 2369,292 1917,204 1756,311 1851,178 2501,167 2801,177 1976,180 2171,163 1785,231 1819,232"/>
<polyline class="sP" points="1921,679 1591,244 924,219 2798,240 1459,204 773,261 1974,267 1843,468 1390,378 2532,227"/>
<polyline class="sG" points="2200,194 1597,416 2898,214 1555,202 2655,314 1196,231 1923,221 752,170 1183,246 1432,185 2098,345 997,176 2766,204 1716,236 1124,205 1118,237 1011,171 1005,161 2262,192 2262,239 2115,274 2298,232 2312,194 2805,227 1985,276 2829,210 696,222"/>
<polyline class="tC" points="2391,234 2391,234"/>
<polyline class="sK" points="1704,235 2040,168 2289,232 1578,250 1800,174 1995,223 1719,155 2176,310 1159,182 2202,154 1835,184 2223,303 1762,245 2703,228 2935,215 2128,170 2143,170 2101,201 1100,200 2128,197 3003,209 2364,312 1270,255 2878,220 1803,217 2740,245 2488,158 3005,198 1083,166 2138,169 2083,177 2950,244"/>
<polyline class="sP" points="2360,260 1266,153 2688,481 1736,286 802,374 1567,432 832,153 1973,340 2433,257 3093,381 1900,185 2114,164 2692,258 1064,246 1074,506 2916,270 1074,233 2750,298 970,177 2033,408"/>
<polyline class="sK" points="2246,158 2222,230 1732,228 1754,282 2839,232 2761,287 2360,158 2154,157 1901,172 2057,163 1900,193 2280,165 2070,160 1736,177 1857,224 1591,181 2065,189 3101,153 2490,170 3043,153 2336,249 2115,158 1653,188 1741,234 2124,159 2294,168"/>
<polyline class="sG" points="2011,284 2414,222 2586,256 2374,220 1133,217 2952,213 1732,224 2255,232 1687,183 1659,230 2324,258 1761,214 1189,181 1743,220 1766,192 2099,228 1719,404 1106,169 2420,208"/>
<polyline class="tM" points="3202,205 3202,205"/>
<polyline class="sC" points="1483,187 2257,258 2560,415 2268,160 2478,379"/>
<polyline class="sG" points="2003,228 1082,263 779,251 3017,330 2809,268 2645,211 2837,273 3040,423 795,183 1680,251 2130,447 2522,453 1067,166 2139,204 2790,229 2372,241 1279,236 1005,161 2854,305 2196,260 1820,200 1397,175"/>
<polyline class="sK" points="1767,199 2355,220 2362,155 1698,176 2048,245 1871,203 1810,236 1924,222 1597,200 1938,170 2040,241 2568,235 1877,238 2470,228 1727,203 1635,181 1895,186 2485,157 1643,173 781,153 1653,189 2210,302 1815,201 2493,160"/>
<polyline class="sP" points="1567,208 867,307 1539,153 1460,197 2159,260 2448,215 1018,174 2940,221 1826,288 2837,180 739,189 2799,243 3075,275 1803,444 1545,243 2771,210"/>
<polyline class="sC" points="2644,446 2375,251 2302,249 1423,225 1287,186 921,423 2367,441 2687,181"/>
<polyline class="sC" points="2273,202 1242,189 1646,228"/>
<polyline class="sP" points="2838,300 1723,180 1211,891 1671,195 1390,251 1139,297 865,455 1203,205 2835,250 1462,905 796,383"/>
<polyline class="sG" points="1267,220 799,344 768,205 2906,203 720,222 2886,226 2180,248 2301,225 1812,335 2452,227 2109,220 2367,270 1339,216 1635,192 1964,267 2122,277 2156,241 1655,219 2456,229 2924,214 734,206 2945,218 2472,323"/>
<polyline class="sK" points="2207,318 1710,246 1793,227 1972,230 3006,157 1098,204 1536,253 1775,166 2494,157 1688,203 2432,287 1221,214 1115,189 1925,248 1823,205 1774,175 1923,323 2130,165 1906,227 2310,199 2217,179 1764,154 1770,237 2094,180 1986,231 2325,184 2269,307 1788,229 2065,179 1505,277 2151,156 1152,226 2101,174"/>
<polyline class="tM" points="1873,251 1873,251"/>
<polyline class="sC" points="794,168 2768,213 2101,217"/>
<polyline class="sK" points="1867,158 1157,215 1105,165 2148,199 1958,204 2214,206 1128,192 1621,168 1121,206 2218,279 3085,173 2239,246 1775,237 3111,172 2076,177 1353,184 2767,172 2135,186 3202,188 2732,307 1772,162 1997,204 1119,223 2268,165 1925,164 2065,162 2122,176 1981,202 1962,228 1977,155 2006,251 2807,183 1752,222 2122,255 1756,237 1997,228"/>
<polyline class="sP" points="1960,787 3000,275 1125,212 2752,210 3015,287 2307,849 778,186 1073,246"/>
<polyline class="tM" points="1690,208 1690,208"/>
<polyline class="sG" points="2334,342 1792,232 1128,212 2145,291 2427,211 2316,207 2226,225 2589,242 2498,244 3119,177 3029,301 809,273 2140,206 2216,226 2396,189 2313,208 2767,246 3013,167 1511,185 1606,340 3121,178 1980,256"/>
<polyline class="sK" points="1691,177 1500,244 2549,179 1927,222 1770,179 3011,160 1462,203 2307,196 2023,172 2162,183 1707,229 2095,178 1830,243 1194,181 2886,303 1776,165 2080,177 2071,174 2892,249 2013,174 2094,167 1728,227 2421,300 1909,209 2572,157 2097,300 1738,222 1923,163 1124,188"/>
<polyline class="sP" points="832,425 3078,276 1254,437 2170,246 1431,240 3040,305 2337,189 856,302 2862,211 2386,903 3088,175 1944,170"/>
<polyline class="sC" points="3059,472 2338,411"/>
<polyline class="sM" points="2522,230 620,420 3188,205"/>
<polyline class="sG" points="804,304 2676,219 2356,229 1015,168 1203,222 1413,187 1873,194 1279,319 2584,182 2424,241 2535,193 1196,205 797,283 1177,172 2232,211 1612,177 2300,248 2788,265 2060,232 1176,258 2895,225 1849,219 1427,170 3036,316 1559,230"/>
<polyline class="sC" points="1720,177 758,202 2649,221 2901,304"/>
<polyline class="sG" points="1932,225 2801,229 2452,229 2074,210 1668,341 1553,178 1008,169 832,254 1959,213 2747,303 2409,274 1880,218 3061,368 1585,184 2192,238 2366,246 2464,325 2060,226 2599,211 1842,191 1903,263 1910,225 2261,293 773,198 2325,249 1749,193 3055,302 3026,300 2127,188 1786,222 1002,162"/>
<polyline class="sK" points="2088,185 1639,155 1816,199 2548,248 1925,233 2183,259 2222,169 2251,157 2175,180 2235,158 2077,164 2780,174 2417,300 2064,229 2217,179 1848,264 2211,266 747,174 1634,198 2002,212 2160,181 1731,216 1969,155 2022,217 2440,234"/>
<polyline class="sP" points="2377,230 3121,337 2024,165 2032,230 2070,482 3008,413 2735,187 2739,373 2035,405 2968,192"/>
<polyline class="sG" points="1508,235 1135,204 3105,408 1619,247 2020,314 1541,391 2178,272 2218,242 1987,219 1929,277 2797,364 2602,300 2865,231 1616,216 2866,205 1827,224 804,276 1635,197 1163,216 2947,248 2223,240 782,203 1443,232 1786,226 2464,196 1533,211"/>
<polyline class="sP" points="724,354 1109,209 1728,820 3025,241 877,365 988,339 1998,723 1692,184 997,336 802,304 1057,240 3163,429 2093,314 3130,405 600,249 3038,211 3295,690"/>
<polyline class="sC" points="2702,238 1960,208"/>
<polyline class="sK" points="1756,188 2191,193 1709,229 2195,158 2142,182 1643,181 1558,185 1077,167 1744,196 2083,195 2232,179 2472,160 2965,168 1657,168 2102,175 1210,212 1840,228 2296,204 1775,240 2941,160 3105,170 1772,213 1183,208 2829,225 2057,305 3015,161"/>
<polyline class="tM" points="1858,266 1858,266"/>
<polyline class="tC" points="2797,219 2797,219"/>
<polyline class="sK" points="1689,175 2028,176 2177,166 2296,192 2200,159 2181,183 1247,206 2440,237 2006,241 2093,180 1108,192 1666,198 2451,235 2047,195 1116,199 1082,171 1122,206 2201,171 1961,199 2154,162 1629,168 1185,169 2077,231 1715,247 2038,168"/>
<polyline class="sG" points="2500,322 1966,254 1540,189 2127,235 2112,364 1939,235 1195,196 2053,336 2105,249 1168,177 1195,226 1997,245 2956,266 2173,238 3011,157 2884,307 1558,219 1257,242 2813,307 1053,217 2583,228 2606,236 2058,314 2298,255 2480,218 1983,239 2976,257"/>
<polyline class="sP" points="1699,200 1581,398 2414,418 2087,409 2002,312 2241,425 1632,196 2769,186 1978,555 1188,376 3074,165 2466,237 824,202 2439,226 2118,178 2924,287"/>
<polyline class="sG" points="1077,189 2099,264 3016,182 2555,249 2897,160 1963,211 3055,316 2307,202 1539,236 1101,206 2270,202 739,197 2967,304 1692,321 2354,230 1133,196 2103,285 2215,202 2822,189 1895,228 2158,242 1625,197 1677,381 2349,208 3133,152"/>
<polyline class="sP" points="3062,158 2908,212 804,212 3145,581 802,317 1224,199 670,227 3023,284 1631,179 744,304 1897,256"/>
<polyline class="sC" points="2275,279 1764,153"/>
<polyline class="sK" points="2625,284 2010,225 2133,188 1987,225 1175,178 2802,217 2071,215 1876,190 1838,246 2388,259 1608,181 2215,300 1760,246 1609,163 3005,198 2212,194 2394,210 1817,157 1788,175 1835,184 1876,201 1693,189 2478,247 2062,315 2877,229 1879,212 2275,156 2060,216 1777,156 1870,155 2331,180 2105,164 2072,179"/>
<polyline class="sC" points="2690,217 2901,245 2089,153 1815,153"/>
<polyline class="sG" points="2549,217 811,172 2002,248 2513,282 2278,235 1776,246 1737,219 1193,178 2921,283 3012,159 2081,210 2071,308 1156,210 2461,248 1182,201 1874,212 2886,243 1498,240 2651,288 2065,240 2327,284 1968,270 2215,192"/>
<polyline class="sM" points="1103,267 1025,957"/>
<polyline class="sP" points="1777,851 1290,189 1725,247 1865,794 3156,430 796,233 2332,250 3105,520 2345,862 1060,500 1617,174 1107,374 1891,434"/>
<polyline class="sK" points="1601,158 1549,163 3046,239 1911,187 1638,176 2606,159 1956,225 1923,230 1778,233 1695,219 2895,287 1994,234 1909,204 1615,172 1690,167 2090,171 1647,246 2228,178 1794,210 1992,226 2298,163 2328,179 1665,180 2090,207 1911,157 1733,230 2863,254 1650,156"/>
<polyline class="sC" points="1186,203 679,219"/>
<polyline class="sG" points="2087,218 1132,178 967,242 1624,256 1045,300 1646,218 2118,247 2643,309 2671,252 2031,193 1565,270 1925,248 1489,179 2976,181 2400,228 1968,222 2685,351 1541,232 1686,231 1641,241 2458,269 2256,281 789,182 2075,242 2723,225"/>
<polyline class="sP" points="1293,314 1670,793 1870,286 971,157 900,188 2062,696 2674,347 1998,176 725,182 1773,240 2867,170 1633,225 2022,266 1128,213 2024,367 2583,167 2144,313 781,279 2082,174 1127,213 1146,456"/>
<polyline class="sK" points="1934,184 1776,193 1906,231 1611,187 1779,191 2172,156 1881,206 1908,210 1216,207 1980,185 2177,245 2892,243 2136,169 2101,181 1888,193 2010,231 2008,155 3049,192 2258,178 3105,163 2809,205 1950,232 1615,182"/>
<polyline class="sG" points="1696,219 2810,213 2670,317 2298,280 2097,222 1182,180 1338,161 2122,215 1514,191 1210,199 2899,212 2017,235 3010,396 1552,192 2174,315 2266,222 810,202 1761,227 1536,369 1989,295 3034,286 2354,221"/>
<polyline class="sK" points="2087,190 2375,222 1810,253 1908,162 1697,186 2523,275 2973,156 2326,342 2144,328 1849,181 2063,204 2279,234 1653,190 2402,315 1936,232 3093,163 1171,182 2249,213 2279,174 2161,177 1657,199 1660,181 1845,169 1738,229 1891,230 2523,266 1171,181 1798,228"/>
<polyline class="sP" points="2556,224 2545,235 960,189 1408,257 2290,829 3088,152 1609,203 3069,418 1174,200 2281,181 1556,201 1480,204 3089,272"/>
<polyline class="sM" points="1861,271 3098,151 3249,205"/>
<polyline class="sC" points="994,233 1629,215 2940,370 2426,192"/>
<polyline class="sG" points="2152,188 1907,251 1443,200 2906,228 2264,191 2462,225 2139,196 710,197 2350,225 2310,303 2899,243 2215,229 2761,228 2875,200 1577,401 2028,193 1579,184 2382,244 1467,217 1642,199 3018,317 2757,267"/>
<polyline class="sC" points="908,155 2693,231"/>
<polyline class="sP" points="1066,244 1172,305 1428,206 2825,246 2813,360 1044,471 840,164 2994,251 2127,155 891,261 2132,218"/>
<polyline class="sM" points="3146,205 3057,205"/>
<polyline class="sK" points="1793,228 1988,228 3103,153 1181,188 1054,194 1760,232 2500,221 2245,182 1619,195 1871,222 1707,238 2197,261 1791,200 3041,155 2088,200 1608,157 2014,226 2827,260 2138,168 2071,191 1179,220 1797,231 1779,236 2078,197 1772,229 1973,228 2298,165 1983,226 2567,201 1175,156 3115,163 1869,162 1483,175 2249,174"/>
<polyline class="sM" points="1420,316 1057,152"/>
<polyline class="sG" points="2176,329 776,228 2430,319 1000,164 3027,160 1559,220 1574,248 2789,254 2343,263 1465,188 2496,234 2395,184 1993,330 1624,218 2498,238 2277,215 2739,345 3041,177 3057,486 1531,186 1547,198 2018,221 2318,205 1552,406 2737,263 1627,214 2902,229"/>
<polyline class="sK" points="1940,187 1123,216 2916,244 2104,159 2376,171 1618,163 1982,155 2078,240 2898,282 1077,169 2967,208 2566,154 2110,175 772,153 1966,231 2246,183 2265,234 1935,209 1638,179 1639,195 1922,245 2667,285 2097,176 1739,194"/>
<polyline class="sP" points="2920,387 795,304 1763,231 1814,205 997,150 2750,220 1126,225 3139,423 2890,227 2378,193 1173,235 1755,269 2469,463 1029,171 762,217 3001,210 2803,405"/>
<polyline class="sK" points="2925,160 2270,154 1578,183 1650,195 3013,201 1156,202 1619,168 1808,256 1952,248 1111,186 2201,322 1820,183 2166,195 2195,198 2074,272 1703,155 2286,172 1742,235 2065,184 1626,179 2828,167 2166,172 2149,201"/>
<polyline class="sP" points="795,367 1263,368 1108,377 2242,265 1166,372 1612,174 1992,571 1792,209 2430,197 3092,376 640,239 1406,193 2169,208 957,453 1851,204 3313,531 869,460 2701,261 2483,188 1598,328 2256,637 1101,235 794,215"/>
<polyline class="tC" points="2043,166 2043,166"/>
<polyline class="sG" points="2789,254 2858,190 753,302 1541,262 1799,214 1172,164 2856,168 2888,398 1858,220 1808,214 2347,217 2081,230 1986,290 2250,236 2829,248 2821,227 2905,221 1466,172 1422,206 2565,201 2606,253 2624,279 804,187 2489,225"/>
<polyline class="sP" points="3404,442 1058,278 2539,404 1676,172 2790,251 2081,749 2246,213 888,183 3014,276 2097,223 946,197 1080,302 2154,240 1321,302 743,253 2779,180"/>
<polyline class="sG" points="1884,269 2817,261 2793,270 1972,232 3041,474 1551,216 2883,250 794,202 2528,260 2180,241 2932,316 2797,256 1186,182 1993,291 2312,179 2213,207 2940,248 2167,375 2821,212 1397,231 2900,211 1842,208 2545,216 1200,230 1782,203 2933,267 2248,342 1006,173 2117,238 2808,363 1616,218 2463,193 2301,286"/>
<polyline class="sC" points="1161,220 1639,223 1141,217"/>
<polyline class="tM" points="1667,199 1667,199"/>
<polyline class="sK" points="1668,191 2153,165 1959,174 2901,208 1798,159 1663,177 2163,157 2137,168 1790,252 1950,176 2171,246 2299,174 2115,170 1864,189 1876,187 1791,154 2501,188"/>
<polyline class="sK" points="1781,230 1757,181 2914,313 2866,203 2912,290 1752,176 2056,219 2627,316 1963,227 3049,171 1732,201 2909,218 2123,170 2030,239 2871,249 2167,198 2969,286 2040,262 2251,156 2347,166 1898,211 1688,180"/>
<polyline class="sG" points="2162,189 794,276 1665,202 2323,244 1252,288 2157,397 2808,185 2098,216 1478,205 2912,244 1892,255 2335,222 1857,214 2948,164 3001,341 1621,207 2862,193 2722,360 3172,153 1715,202 1509,223 1945,277 859,382 2947,217 2935,192 1789,212 2136,253 2090,342 2062,231"/>
<polyline class="tM" points="824,390 824,390"/>
<polyline class="sC" points="2755,312 2252,289 1172,219"/>
<polyline class="sP" points="844,345 2995,204 3156,406 3118,354 803,324 2393,267 2910,269 2568,205 967,262 1622,212 1426,233 685,170 1707,284 2792,257 1215,512 3139,397"/>
<polyline class="sC" points="2719,188 2957,371 1305,204 2517,202"/>
<polyline class="sK" points="1818,189 2839,222 1581,189 1744,188 1115,186 2242,204 1673,205 2406,230 1775,239 1660,215 1227,219 1971,215 1668,184 2032,238 1931,183 786,148 1998,156 2340,158 1791,202 2296,311 2042,168 1822,164 2265,171 2142,180 3110,164 1982,176 1280,182 2227,209 1729,183 2698,304 2877,181 1525,202"/>
<polyline class="sP" points="1922,403 3054,155 3246,189 1567,393 1646,217 2755,192 2799,240 1139,281 1961,703 3151,589 1268,206 990,151 3018,246"/>
<polyline class="sG" points="816,184 2323,191 3070,314 1296,406 1101,210 2964,223 2200,307 2492,251 962,188 2609,228 1981,246 2108,247 1924,248 2225,204 2984,173 1080,318 2038,226 1936,241 2840,211 2150,191 1618,198"/>
</g></g>
<g class="g1">
<path d="M827.5 1085.4V109.5"/>
<path d="M1424.3 1085.4V109.5"/>
<path d="M2021.1 1085.4V109.5"/>
<path d="M2618.0 1085.4V109.5"/>
<path d="M3214.8 1085.4V109.5"/>
<path d="M236.5 153.3H3555.5"/>
<path d="M236.5 326.7H3555.5"/>
<path d="M236.5 500.1H3555.5"/>
<path d="M236.5 673.6H3555.5"/>
<path d="M236.5 847.0H3555.5"/>
<path d="M236.5 1020.4H3555.5"/>
</g>
<g class="vl">
<path d="M762.8 1085.4V109.5" stroke="#ffc0cb"/>
<path d="M970.9 1085.4V109.5" stroke="#ee82ee"/>
<path d="M1652.0 1085.4V109.5" stroke="#a52a2a"/>
<path d="M1984.7 1085.4V109.5" stroke="#0000ff"/>
<path d="M2102.0 1085.4V109.5" stroke="#87ceeb"/>
<path d="M2208.7 1085.4V109.5" stroke="#ffa500"/>
<path d="M2408.7 1085.4V109.5" stroke="#ff0000"/>
<path d="M2974.0 1085.4V109.5" stroke="#008000"/>
<path d="M3263.8 1085.4V109.5" stroke="#808080"/>
</g>
<g class="tc">
<path d="M827.5 1085.4v14.6"/>
<path d="M1424.3 1085.4v14.6"/>
<path d="M2021.1 1085.4v14.6"/>
<path d="M2618.0 1085.4v14.6"/>
<path d="M3214.8 1085.4v14.6"/>
<path d="M236.5 153.3h-14.6"/>
<path d="M236.5 326.7h-14.6"/>
<path d="M236.5 500.1h-14.6"/>
<path d="M236.5 673.6h-14.6"/>
<path d="M236.5 847.0h-14.6"/>
<path d="M236.5 1020.4h-14.6"/>
</g>
<rect class="sp" x="236.5" y="109.5" width="3319.0" height="975.9"/>
<text class="tk" x="827.5" y="1146.3" text-anchor="middle" textLength="50.6">25</text>
<text class="tk" x="1424.3" y="1146.3" text-anchor="middle" textLength="50.6">30</text>
<text class="tk" x="2021.1" y="1146.3" text-anchor="middle" textLength="50.6">35</text>
<text class="tk" x="2618.0" y="1146.3" text-anchor="middle" textLength="50.6">40</text>
<text class="tk" x="3214.8" y="1146.3" text-anchor="middle" textLength="50.6">45</text>
<text class="tk" x="205.3" y="169.2" text-anchor="end" textLength="25.3">0</text>
<text class="tk" x="205.3" y="342.6" text-anchor="end" textLength="75.9">100</text>
<text class="tk" x="205.3" y="516.0" text-anchor="end" textLength="75.9">200</text>
<text class="tk" x="205.3" y="689.5" text-anchor="end" textLength="75.9">300</text>
<text class="tk" x="205.3" y="862.9" text-anchor="end" textLength="75.9">400</text>
<text class="tk" x="205.3" y="1036.3" text-anchor="end" textLength="75.9">500</text>
<text class="j" x="1896" y="1202.7" font-size="41.67" text-anchor="middle">緯度</text>
<text class="j" transform="translate(104.1 600.3) rotate(-90)" font-size="41.67" text-anchor="middle">深さ</text>
<text x="1194.5" y="83.1" font-size="53.3" textLength="280.5">2018-01-01</text>
<text class="j" x="1495.8" y="81.5" font-size="50">から</text>
<text x="1608" y="83.1" font-size="53.3" textLength="288">2018-01-31</text>
<text class="j" x="1896" y="81.5" font-size="50">の全国地震の緯度と深さの関係</text>
<rect x="255.8" y="747" width="370.1" height="316.9" rx="8.3" fill="#fff" fill-opacity="0.8" stroke="#ccc" stroke-opacity="0.8" stroke-width="3.6"/>
<rect x="270.8" y="765.2" width="87.3" height="32.7" fill="#e498b2"/>
<text class="tk" x="389.3" y="795.8" textLength="110.0">M &lt; 1</text>
<rect x="270.8" y="826.1" width="87.3" height="32.7" fill="#7c8d42"/>
<text class="tk" x="389.3" y="857.2" textLength="221.0">1 &lt;= M &lt; 2</text>
<rect x="270.8" y="887.1" width="87.3" height="32.7" fill="#7157a0"/>
<text class="tk" x="389.3" y="918.5" textLength="221.0">2 &lt;= M &lt; 4</text>
<rect x="270.8" y="947.0" width="87.3" height="32.7" fill="#b24c95"/>
<text class="tk" x="389.3" y="978.4" textLength="221.0">4 &lt;= M &lt; 6</text>
<rect x="270.8" y="1008.3" width="87.3" height="32.7" fill="#a21f42"/>
<text class="tk" x="389.3" y="1038.9" textLength="144.0">M &gt;= 6</text>
<g class="bar">
<rect x="385.50" y="2227.4" width="59.21" height="2.6"/>
<rect x="444.71" y="2227.4" width="59.21" height="2.6"/>
<rect x="503.92" y="2226.4" width="59.21" height="3.6"/>
<rect x="563.13" y="2221.7" width="59.21" height="8.3"/>
<rect x="622.34" y="2223.5" width="59.21" height="6.5"/>
<rect x="681.55" y="2175.0" width="59.21" height="55.0"/>
<rect x="740.76" y="2068.7" width="59.21" height="161.3"/>
<rect x="799.97" y="2159.4" width="59.21" height="70.6"/>
<rect x="859.18" y="2211.8" width="59.21" height="18.2"/>
<rect x="918.39" y="2214.7" width="59.21" height="15.3"/>
<rect x="977.60" y="2200.4" width="59.21" height="29.6"/>
<rect x="1036.81" y="2188.5" width="59.21" height="41.5"/>
<rect x="1096.02" y="2184.1" width="59.21" height="45.9"/>
<rect x="1155.23" y="2048.6" width="59.21" height="181.4"/>
<rect x="1214.44" y="2157.7" width="59.21" height="72.3"/>
<rect x="1273.65" y="2196.3" width="59.21" height="33.7"/>
<rect x="1332.86" y="2199.0" width="59.21" height="31.0"/>
<rect x="1392.07" y="2186.0" width="59.21" height="44.0"/>
<rect x="1451.28" y="2113.7" width="59.21" height="116.3"/>
<rect x="1510.49" y="2160.7" width="59.21" height="69.3"/>
<rect x="1569.70" y="1982.1" width="59.21" height="247.9"/>
<rect x="1628.91" y="1953.0" width="59.21" height="277.0"/>
<rect x="1688.12" y="1601.4" width="59.21" height="628.6"/>
<rect x="1747.33" y="1854.3" width="59.21" height="375.7"/>
<rect x="1806.54" y="1990.5" width="59.21" height="239.5"/>
<rect x="1865.75" y="1813.4" width="59.21" height="416.6"/>
<rect x="1924.96" y="2054.4" width="59.21" height="175.6"/>
<rect x="1984.17" y="1627.8" width="59.21" height="602.2"/>
<rect x="2043.38" y="1552.4" width="59.21" height="677.6"/>
<rect x="2102.59" y="1594.9" width="59.21" height="635.1"/>
<rect x="2161.80" y="1301.0" width="59.21" height="929.0"/>
<rect x="2221.01" y="1391.0" width="59.21" height="839.0"/>
<rect x="2280.22" y="1900.6" width="59.21" height="329.4"/>
<rect x="2339.43" y="2048.3" width="59.21" height="181.7"/>
<rect x="2398.64" y="1937.3" width="59.21" height="292.7"/>
<rect x="2457.85" y="1912.8" width="59.21" height="317.2"/>
<rect x="2517.06" y="2062.8" width="59.21" height="167.2"/>
<rect x="2576.27" y="2024.1" width="59.21" height="205.9"/>
<rect x="2635.48" y="2178.3" width="59.21" height="51.7"/>
<rect x="2694.69" y="2132.9" width="59.21" height="97.1"/>
<rect x="2753.90" y="2182.9" width="59.21" height="47.1"/>
<rect x="2813.11" y="2138.8" width="59.21" height="91.2"/>
<rect x="2872.32" y="2149.2" width="59.21" height="80.8"/>
<rect x="2931.53" y="2149.9" width="59.21" height="80.1"/>
<rect x="2990.74" y="2113.1" width="59.21" height="116.9"/>
<rect x="3049.95" y="2204.0" width="59.21" height="26.0"/>
<rect x="3109.16" y="2204.0" width="59.21" height="26.0"/>
<rect x="3168.37" y="2217.3" width="59.21" height="12.7"/>
<rect x="3227.58" y="2228.1" width="59.21" height="1.9"/>
<rect x="3286.79" y="2229.0" width="59.21" height="1.0"/>
<rect x="3346.00" y="2229.0" width="59.21" height="1.0"/>
</g>
<g class="g2">
<path d="M823.0 2230.0V1254.1"/>
<path d="M1414.8 2230.0V1254.1"/>
<path d="M2006.6 2230.0V1254.1"/>
<path d="M2598.5 2230.0V1254.1"/>
<path d="M3190.3 2230.0V1254.1"/>
<path d="M236.5 2230.0H3555.5"/>
<path d="M236.5 2100.3H3555.5"/>
<path d="M236.5 1970.6H3555.5"/>
<path d="M236.5 1840.9H3555.5"/>
<path d="M236.5 1711.2H3555.5"/>
<path d="M236.5 1581.5H3555.5"/>
<path d="M236.5 1451.8H3555.5"/>
<path d="M236.5 1322.1H3555.5"/>
</g>
<g class="vl">
<path d="M759.7 2230.0V1254.1" stroke="#ffc0cb"/>
<path d="M965.8 2230.0V1254.1" stroke="#ee82ee"/>
<path d="M1641.8 2230.0V1254.1" stroke="#a52a2a"/>
<path d="M1970.9 2230.0V1254.1" stroke="#0000ff"/>
<path d="M2086.7 2230.0V1254.1" stroke="#87ceeb"/>
<path d="M2192.9 2230.0V1254.1" stroke="#ffa500"/>
<path d="M2392.9 2230.0V1254.1" stroke="#ff0000"/>
<path d="M2952.0 2230.0V1254.1" stroke="#008000"/>
<path d="M3238.9 2230.0V1254.1" stroke="#808080"/>
</g>
<g class="tc">
<path d="M823.0 2230.0v14.6"/>
<path d="M1414.8 2230.0v14.6"/>
<path d="M2006.6 2230.0v14.6"/>
<path d="M2598.5 2230.0v14.6"/>
<path d="M3190.3 2230.0v14.6"/>
<path d="M236.5 2230.0h-14.6"/>
<path d="M236.5 2100.3h-14.6"/>
<path d="M236.5 1970.6h-14.6"/>
<path d="M236.5 1840.9h-14.6"/>
<path d="M236.5 1711.2h-14.6"/>
<path d="M236.5 1581.5h-14.6"/>
<path d="M236.5 1451.8h-14.6"/>
<path d="M236.5 1322.1h-14.6"/>
</g>
<rect class="sp" x="236.5" y="1254.1" width="3319.0" height="975.9"/>
<text class="tk" x="823.0" y="2291.4" text-anchor="middle" textLength="50.6">25</text>
<text class="tk" x="1414.8" y="2291.4" text-anchor="middle" textLength="50.6">30</text>
<text class="tk" x="2006.6" y="2291.4" text-anchor="middle" textLength="50.6">35</text>
<text class="tk" x="2598.5" y="2291.4" text-anchor="middle" textLength="50.6">40</text>
<text class="tk" x="3190.3" y="2291.4" text-anchor="middle" textLength="50.6">45</text>
<text class="tk" x="205.3" y="2245.9" text-anchor="end" textLength="25.3">0</text>
<text class="tk" x="205.3" y="2116.2" text-anchor="end" textLength="75.9">250</text>
<text class="tk" x="205.3" y="1986.5" text-anchor="end" textLength="75.9">500</text>
<text class="tk" x="205.3" y="1856.8" text-anchor="end" textLength="75.9">750</text>
<text class="tk" x="205.3" y="1727.1" text-anchor="end" textLength="101.2">1000</text>
<text class="tk" x="205.3" y="1597.4" text-anchor="end" textLength="101.2">1250</text>
<text class="tk" x="205.3" y="1467.7" text-anchor="end" textLength="101.2">1500</text>
<text class="tk" x="205.3" y="1338.0" text-anchor="end" textLength="101.2">1750</text>
<text class="j" x="1896" y="2347.8" font-size="41.67" text-anchor="middle">緯度</text>
<text class="j" transform="translate(78.3 1745) rotate(-90)" font-size="41.67" text-anchor="middle">頻度</text>
</svg></body></html>
